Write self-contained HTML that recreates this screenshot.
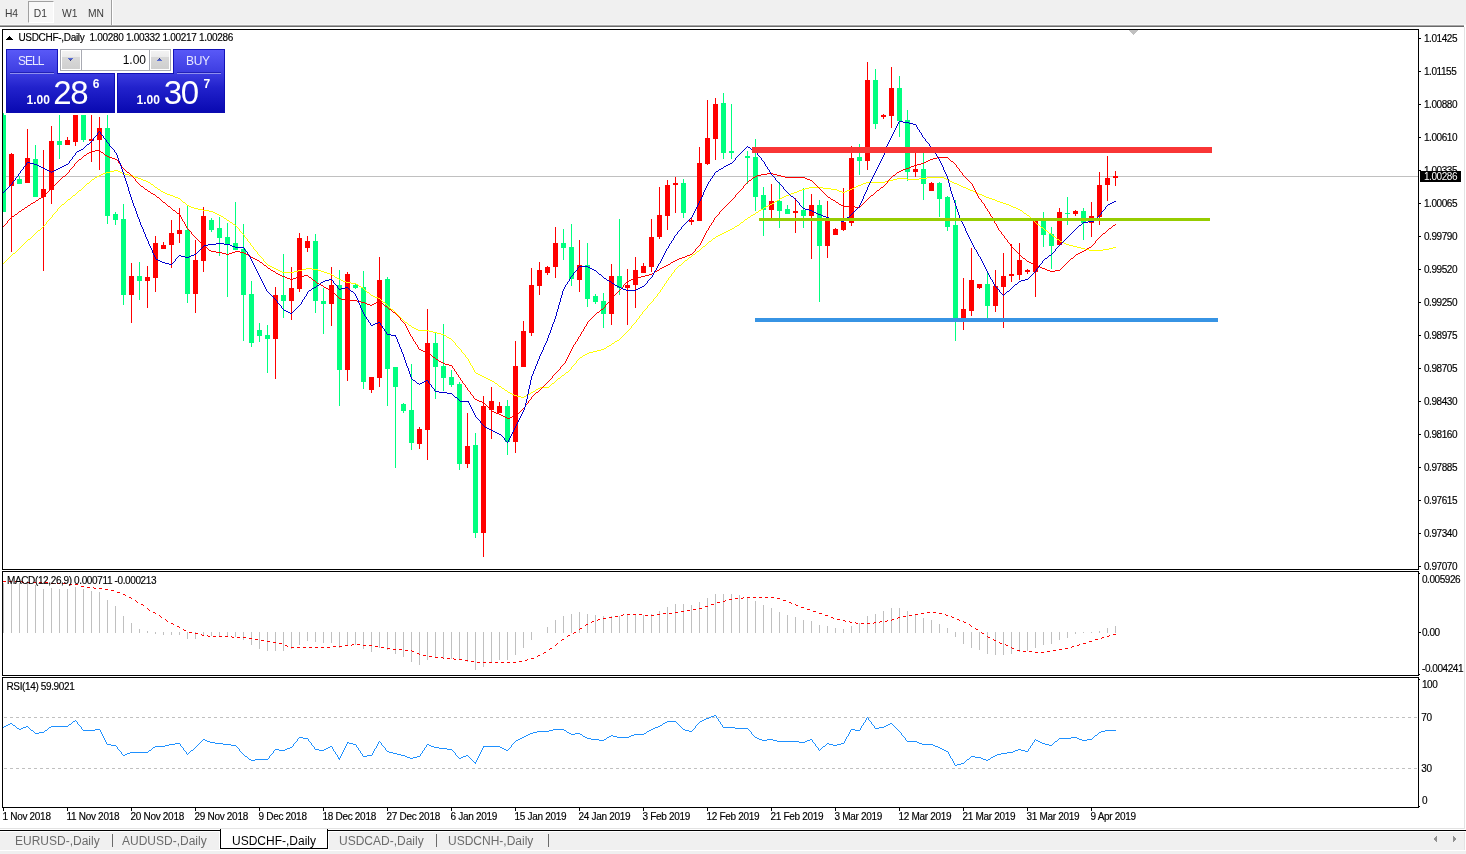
<!DOCTYPE html>
<html><head><meta charset="utf-8"><title>USDCHF-,Daily</title>
<style>
html,body{margin:0;padding:0}
body{width:1466px;height:854px;position:relative;overflow:hidden;background:#fff;font-family:"Liberation Sans",sans-serif}
div{position:absolute;box-sizing:border-box}
.t{font-size:10px;line-height:20px;height:20px;color:#000;white-space:nowrap;letter-spacing:-0.3px;-webkit-text-stroke:0.15px currentColor}
.n{letter-spacing:-0.45px}
.m{letter-spacing:-0.37px}
.tb{font-size:10.3px;line-height:20px;height:20px;color:#3c3c3c;white-space:nowrap}
.tab{font-size:12px;line-height:20px;height:20px;color:#6b6b6b;white-space:nowrap}
.w{color:#fff;white-space:nowrap}
</style></head><body>
<!-- toolbar -->
<div style="left:0;top:0;width:1466px;height:24px;background:#f0f0f0"></div>
<div style="left:0;top:24px;width:1466px;height:1px;background:#f6f6f6"></div>
<div style="left:0;top:25px;width:1464px;height:1px;background:#a8a8a8"></div>
<div style="left:0;top:26px;width:1464px;height:1px;background:#696969"></div>
<div style="left:28px;top:1px;width:26px;height:22px;background:#f8f8f8;border-left:1px solid #a0a0a0;border-top:1px solid #a0a0a0;border-right:1px solid #fff;border-bottom:1px solid #fff"></div>
<div style="left:111px;top:0;width:1px;height:25px;background:#a0a0a0"></div>
<div style="left:112px;top:0;width:1px;height:25px;background:#fff"></div>
<div class="tb" style="left:4.9px;top:4.2px">H4</div>
<div class="tb" style="left:33.8px;top:4.2px">D1</div>
<div class="tb" style="left:62px;top:4.2px">W1</div>
<div class="tb" style="left:88px;top:4.2px">MN</div>
<!-- right window edge -->
<div style="left:1464px;top:27px;width:1px;height:802px;background:#e3e3e3"></div>
<!-- bottom tab bar -->
<div style="left:0;top:828px;width:1465px;height:1px;background:#e3e3e3"></div>
<div style="left:0;top:830px;width:1466px;height:24px;background:#f0f0f0"></div>
<div style="left:0;top:830px;width:1466px;height:1px;background:#000"></div>
<div style="left:0;top:831px;width:1466px;height:1px;background:#fff"></div>
<div style="left:1464px;top:832px;width:1px;height:18px;background:#e3e3e3"></div>
<div style="left:1465px;top:831px;width:1px;height:20px;background:#fff"></div>
<div style="left:0;top:850px;width:1466px;height:1px;background:#fff"></div>
<div style="left:220px;top:849px;width:109px;height:1px;background:#fff"></div>
<div style="left:219px;top:831px;width:1px;height:18px;background:#fff"></div>
<div style="left:328px;top:831px;width:1px;height:18px;background:#fff"></div>
<div style="left:220px;top:829px;width:108px;height:20px;background:#fff;border:1px solid #000;border-top:none"></div>
<div style="left:221px;top:829px;width:106px;height:3px;background:#fff"></div>
<div class="tab" style="left:15px;top:830.5px">EURUSD-,Daily</div>
<div style="left:112px;top:834px;width:1px;height:13px;background:#6b6b6b"></div>
<div class="tab" style="left:122px;top:830.5px">AUDUSD-,Daily</div>
<div class="tab" style="left:232px;top:830.5px;color:#000">USDCHF-,Daily</div>
<div class="tab" style="left:339px;top:830.5px">USDCAD-,Daily</div>
<div style="left:436px;top:834px;width:1px;height:13px;background:#6b6b6b"></div>
<div class="tab" style="left:448px;top:830.5px">USDCNH-,Daily</div>
<div style="left:548px;top:834px;width:1px;height:13px;background:#6b6b6b"></div>
<svg style="position:absolute;left:1430px;top:832px" width="32" height="14" viewBox="1430 832 32 14" shape-rendering="crispEdges"><path d="M1434 838h1v2h-1zM1435 837h1v4h-1zM1436 836h1v6h-1zM1453 836h1v6h-1zM1454 837h1v4h-1zM1455 838h1v2h-1z" fill="#909090"/></svg>
<svg width="1466" height="854" viewBox="0 0 1466 854" shape-rendering="crispEdges" style="position:absolute;left:0;top:0"><defs><clipPath id="cm"><rect x="3" y="30" width="1415" height="539"/></clipPath><clipPath id="c2"><rect x="3" y="572" width="1415" height="103"/></clipPath><clipPath id="c3"><rect x="3" y="678" width="1415" height="129"/></clipPath></defs><rect x="3" y="176" width="1415" height="1" fill="#c0c0c0"/><g clip-path="url(#cm)"><rect x="3" y="113" width="1" height="99" fill="#00ff7f"/><rect x="1" y="115" width="5" height="97" fill="#00ff7f"/><rect x="11" y="153" width="1" height="99" fill="#ff0000"/><rect x="9" y="154" width="5" height="32" fill="#ff0000"/><rect x="19" y="176" width="1" height="8" fill="#00ff7f"/><rect x="17" y="179" width="5" height="5" fill="#00ff7f"/><rect x="27" y="129" width="1" height="54" fill="#ff0000"/><rect x="25" y="158" width="5" height="25" fill="#ff0000"/><rect x="35" y="145" width="1" height="52" fill="#00ff7f"/><rect x="33" y="159" width="5" height="38" fill="#00ff7f"/><rect x="43" y="150" width="1" height="121" fill="#ff0000"/><rect x="41" y="189" width="5" height="8" fill="#ff0000"/><rect x="51" y="126" width="1" height="78" fill="#ff0000"/><rect x="49" y="141" width="5" height="49" fill="#ff0000"/><rect x="59" y="100" width="1" height="59" fill="#00ff7f"/><rect x="57" y="141" width="5" height="4" fill="#00ff7f"/><rect x="67" y="137" width="1" height="8" fill="#ff0000"/><rect x="65" y="140" width="5" height="5" fill="#ff0000"/><rect x="75" y="100" width="1" height="46" fill="#ff0000"/><rect x="73" y="100" width="5" height="42" fill="#ff0000"/><rect x="83" y="100" width="1" height="42" fill="#00ff7f"/><rect x="81" y="100" width="5" height="40" fill="#00ff7f"/><rect x="91" y="100" width="1" height="62" fill="#ff0000"/><rect x="89" y="139" width="5" height="2" fill="#ff0000"/><rect x="99" y="117" width="1" height="53" fill="#ff0000"/><rect x="97" y="128" width="5" height="12" fill="#ff0000"/><rect x="107" y="100" width="1" height="124" fill="#00ff7f"/><rect x="105" y="128" width="5" height="88" fill="#00ff7f"/><rect x="115" y="212" width="1" height="13" fill="#00ff7f"/><rect x="113" y="214" width="5" height="6" fill="#00ff7f"/><rect x="123" y="204" width="1" height="101" fill="#00ff7f"/><rect x="121" y="219" width="5" height="76" fill="#00ff7f"/><rect x="131" y="263" width="1" height="60" fill="#ff0000"/><rect x="129" y="276" width="5" height="19" fill="#ff0000"/><rect x="139" y="262" width="1" height="38" fill="#00ff7f"/><rect x="137" y="276" width="5" height="5" fill="#00ff7f"/><rect x="147" y="266" width="1" height="42" fill="#ff0000"/><rect x="145" y="277" width="5" height="4" fill="#ff0000"/><rect x="155" y="236" width="1" height="56" fill="#ff0000"/><rect x="153" y="243" width="5" height="35" fill="#ff0000"/><rect x="163" y="242" width="1" height="7" fill="#ff0000"/><rect x="161" y="245" width="5" height="4" fill="#ff0000"/><rect x="171" y="220" width="1" height="48" fill="#ff0000"/><rect x="169" y="233" width="5" height="12" fill="#ff0000"/><rect x="179" y="208" width="1" height="35" fill="#ff0000"/><rect x="177" y="230" width="5" height="4" fill="#ff0000"/><rect x="187" y="205" width="1" height="98" fill="#00ff7f"/><rect x="185" y="230" width="5" height="64" fill="#00ff7f"/><rect x="195" y="240" width="1" height="73" fill="#ff0000"/><rect x="193" y="260" width="5" height="34" fill="#ff0000"/><rect x="203" y="207" width="1" height="65" fill="#ff0000"/><rect x="201" y="216" width="5" height="45" fill="#ff0000"/><rect x="211" y="218" width="1" height="14" fill="#00ff7f"/><rect x="209" y="220" width="5" height="10" fill="#00ff7f"/><rect x="219" y="217" width="1" height="39" fill="#00ff7f"/><rect x="217" y="228" width="5" height="10" fill="#00ff7f"/><rect x="227" y="223" width="1" height="74" fill="#00ff7f"/><rect x="225" y="237" width="5" height="7" fill="#00ff7f"/><rect x="235" y="202" width="1" height="48" fill="#00ff7f"/><rect x="233" y="243" width="5" height="7" fill="#00ff7f"/><rect x="243" y="224" width="1" height="117" fill="#00ff7f"/><rect x="241" y="249" width="5" height="46" fill="#00ff7f"/><rect x="251" y="281" width="1" height="66" fill="#00ff7f"/><rect x="249" y="294" width="5" height="49" fill="#00ff7f"/><rect x="259" y="323" width="1" height="19" fill="#00ff7f"/><rect x="257" y="330" width="5" height="6" fill="#00ff7f"/><rect x="267" y="325" width="1" height="48" fill="#00ff7f"/><rect x="265" y="335" width="5" height="4" fill="#00ff7f"/><rect x="275" y="287" width="1" height="92" fill="#ff0000"/><rect x="273" y="295" width="5" height="44" fill="#ff0000"/><rect x="283" y="254" width="1" height="64" fill="#00ff7f"/><rect x="281" y="295" width="5" height="6" fill="#00ff7f"/><rect x="291" y="267" width="1" height="53" fill="#ff0000"/><rect x="289" y="288" width="5" height="13" fill="#ff0000"/><rect x="299" y="233" width="1" height="59" fill="#ff0000"/><rect x="297" y="238" width="5" height="51" fill="#ff0000"/><rect x="307" y="236" width="1" height="16" fill="#ff0000"/><rect x="305" y="241" width="5" height="7" fill="#ff0000"/><rect x="315" y="234" width="1" height="79" fill="#00ff7f"/><rect x="313" y="241" width="5" height="60" fill="#00ff7f"/><rect x="323" y="288" width="1" height="46" fill="#00ff7f"/><rect x="321" y="301" width="5" height="3" fill="#00ff7f"/><rect x="331" y="267" width="1" height="59" fill="#ff0000"/><rect x="329" y="285" width="5" height="19" fill="#ff0000"/><rect x="339" y="270" width="1" height="136" fill="#00ff7f"/><rect x="337" y="285" width="5" height="85" fill="#00ff7f"/><rect x="347" y="272" width="1" height="109" fill="#ff0000"/><rect x="345" y="274" width="5" height="96" fill="#ff0000"/><rect x="355" y="283" width="1" height="6" fill="#00ff7f"/><rect x="353" y="285" width="5" height="3" fill="#00ff7f"/><rect x="363" y="271" width="1" height="118" fill="#00ff7f"/><rect x="361" y="287" width="5" height="95" fill="#00ff7f"/><rect x="371" y="377" width="1" height="16" fill="#ff0000"/><rect x="369" y="377" width="5" height="13" fill="#ff0000"/><rect x="379" y="257" width="1" height="130" fill="#ff0000"/><rect x="377" y="280" width="5" height="98" fill="#ff0000"/><rect x="387" y="277" width="1" height="129" fill="#00ff7f"/><rect x="385" y="279" width="5" height="90" fill="#00ff7f"/><rect x="395" y="367" width="1" height="101" fill="#00ff7f"/><rect x="393" y="367" width="5" height="20" fill="#00ff7f"/><rect x="403" y="403" width="1" height="10" fill="#00ff7f"/><rect x="401" y="404" width="5" height="7" fill="#00ff7f"/><rect x="411" y="364" width="1" height="86" fill="#00ff7f"/><rect x="409" y="410" width="5" height="33" fill="#00ff7f"/><rect x="419" y="427" width="1" height="22" fill="#ff0000"/><rect x="417" y="429" width="5" height="15" fill="#ff0000"/><rect x="427" y="309" width="1" height="151" fill="#ff0000"/><rect x="425" y="343" width="5" height="87" fill="#ff0000"/><rect x="435" y="332" width="1" height="67" fill="#00ff7f"/><rect x="433" y="343" width="5" height="24" fill="#00ff7f"/><rect x="443" y="324" width="1" height="67" fill="#00ff7f"/><rect x="441" y="366" width="5" height="12" fill="#00ff7f"/><rect x="451" y="370" width="1" height="17" fill="#00ff7f"/><rect x="449" y="377" width="5" height="8" fill="#00ff7f"/><rect x="459" y="382" width="1" height="88" fill="#00ff7f"/><rect x="457" y="384" width="5" height="80" fill="#00ff7f"/><rect x="467" y="413" width="1" height="55" fill="#ff0000"/><rect x="465" y="446" width="5" height="18" fill="#ff0000"/><rect x="475" y="433" width="1" height="105" fill="#00ff7f"/><rect x="473" y="445" width="5" height="88" fill="#00ff7f"/><rect x="483" y="396" width="1" height="161" fill="#ff0000"/><rect x="481" y="406" width="5" height="127" fill="#ff0000"/><rect x="491" y="387" width="1" height="52" fill="#ff0000"/><rect x="489" y="401" width="5" height="9" fill="#ff0000"/><rect x="499" y="402" width="1" height="11" fill="#ff0000"/><rect x="497" y="406" width="5" height="7" fill="#ff0000"/><rect x="507" y="400" width="1" height="55" fill="#00ff7f"/><rect x="505" y="406" width="5" height="36" fill="#00ff7f"/><rect x="515" y="341" width="1" height="112" fill="#ff0000"/><rect x="513" y="366" width="5" height="76" fill="#ff0000"/><rect x="523" y="321" width="1" height="46" fill="#ff0000"/><rect x="521" y="331" width="5" height="36" fill="#ff0000"/><rect x="531" y="268" width="1" height="68" fill="#ff0000"/><rect x="529" y="285" width="5" height="48" fill="#ff0000"/><rect x="539" y="262" width="1" height="33" fill="#ff0000"/><rect x="537" y="270" width="5" height="16" fill="#ff0000"/><rect x="547" y="266" width="1" height="9" fill="#ff0000"/><rect x="545" y="267" width="5" height="6" fill="#ff0000"/><rect x="555" y="227" width="1" height="51" fill="#ff0000"/><rect x="553" y="243" width="5" height="24" fill="#ff0000"/><rect x="563" y="229" width="1" height="31" fill="#00ff7f"/><rect x="561" y="243" width="5" height="5" fill="#00ff7f"/><rect x="571" y="224" width="1" height="62" fill="#00ff7f"/><rect x="569" y="247" width="5" height="32" fill="#00ff7f"/><rect x="579" y="240" width="1" height="52" fill="#ff0000"/><rect x="577" y="265" width="5" height="15" fill="#ff0000"/><rect x="587" y="243" width="1" height="64" fill="#00ff7f"/><rect x="585" y="265" width="5" height="34" fill="#00ff7f"/><rect x="595" y="294" width="1" height="10" fill="#00ff7f"/><rect x="593" y="296" width="5" height="6" fill="#00ff7f"/><rect x="603" y="293" width="1" height="35" fill="#00ff7f"/><rect x="601" y="301" width="5" height="13" fill="#00ff7f"/><rect x="611" y="264" width="1" height="61" fill="#ff0000"/><rect x="609" y="276" width="5" height="38" fill="#ff0000"/><rect x="619" y="219" width="1" height="76" fill="#00ff7f"/><rect x="617" y="276" width="5" height="12" fill="#00ff7f"/><rect x="627" y="269" width="1" height="56" fill="#ff0000"/><rect x="625" y="285" width="5" height="3" fill="#ff0000"/><rect x="635" y="257" width="1" height="51" fill="#ff0000"/><rect x="633" y="270" width="5" height="15" fill="#ff0000"/><rect x="643" y="263" width="1" height="10" fill="#ff0000"/><rect x="641" y="266" width="5" height="7" fill="#ff0000"/><rect x="651" y="219" width="1" height="53" fill="#ff0000"/><rect x="649" y="237" width="5" height="30" fill="#ff0000"/><rect x="659" y="187" width="1" height="52" fill="#ff0000"/><rect x="657" y="215" width="5" height="22" fill="#ff0000"/><rect x="667" y="180" width="1" height="50" fill="#ff0000"/><rect x="665" y="185" width="5" height="31" fill="#ff0000"/><rect x="675" y="177" width="1" height="36" fill="#ff0000"/><rect x="673" y="183" width="5" height="2" fill="#ff0000"/><rect x="683" y="179" width="1" height="39" fill="#00ff7f"/><rect x="681" y="183" width="5" height="30" fill="#00ff7f"/><rect x="691" y="217" width="1" height="8" fill="#ff0000"/><rect x="689" y="220" width="5" height="2" fill="#ff0000"/><rect x="699" y="147" width="1" height="74" fill="#ff0000"/><rect x="697" y="163" width="5" height="58" fill="#ff0000"/><rect x="707" y="100" width="1" height="65" fill="#ff0000"/><rect x="705" y="138" width="5" height="26" fill="#ff0000"/><rect x="715" y="98" width="1" height="62" fill="#ff0000"/><rect x="713" y="104" width="5" height="35" fill="#ff0000"/><rect x="723" y="93" width="1" height="66" fill="#00ff7f"/><rect x="721" y="103" width="5" height="50" fill="#00ff7f"/><rect x="731" y="104" width="1" height="55" fill="#00ff7f"/><rect x="729" y="151" width="5" height="2" fill="#00ff7f"/><rect x="747" y="151" width="1" height="33" fill="#00ff7f"/><rect x="745" y="156" width="5" height="2" fill="#00ff7f"/><rect x="755" y="139" width="1" height="72" fill="#00ff7f"/><rect x="753" y="157" width="5" height="40" fill="#00ff7f"/><rect x="763" y="187" width="1" height="49" fill="#00ff7f"/><rect x="761" y="195" width="5" height="15" fill="#00ff7f"/><rect x="771" y="184" width="1" height="34" fill="#ff0000"/><rect x="769" y="201" width="5" height="9" fill="#ff0000"/><rect x="779" y="182" width="1" height="46" fill="#00ff7f"/><rect x="777" y="201" width="5" height="10" fill="#00ff7f"/><rect x="787" y="205" width="1" height="9" fill="#00ff7f"/><rect x="785" y="209" width="5" height="5" fill="#00ff7f"/><rect x="795" y="198" width="1" height="35" fill="#ff0000"/><rect x="793" y="211" width="5" height="2" fill="#ff0000"/><rect x="803" y="188" width="1" height="40" fill="#00ff7f"/><rect x="801" y="210" width="5" height="6" fill="#00ff7f"/><rect x="811" y="194" width="1" height="65" fill="#ff0000"/><rect x="809" y="205" width="5" height="11" fill="#ff0000"/><rect x="819" y="200" width="1" height="102" fill="#00ff7f"/><rect x="817" y="205" width="5" height="41" fill="#00ff7f"/><rect x="827" y="201" width="1" height="57" fill="#ff0000"/><rect x="825" y="219" width="5" height="27" fill="#ff0000"/><rect x="835" y="228" width="1" height="7" fill="#ff0000"/><rect x="833" y="229" width="5" height="6" fill="#ff0000"/><rect x="843" y="188" width="1" height="43" fill="#ff0000"/><rect x="841" y="222" width="5" height="8" fill="#ff0000"/><rect x="851" y="146" width="1" height="80" fill="#ff0000"/><rect x="849" y="158" width="5" height="65" fill="#ff0000"/><rect x="859" y="144" width="1" height="31" fill="#00ff7f"/><rect x="857" y="157" width="5" height="4" fill="#00ff7f"/><rect x="867" y="62" width="1" height="108" fill="#ff0000"/><rect x="865" y="80" width="5" height="81" fill="#ff0000"/><rect x="875" y="69" width="1" height="60" fill="#00ff7f"/><rect x="873" y="80" width="5" height="44" fill="#00ff7f"/><rect x="883" y="114" width="1" height="5" fill="#ff0000"/><rect x="881" y="115" width="5" height="2" fill="#ff0000"/><rect x="891" y="67" width="1" height="61" fill="#ff0000"/><rect x="889" y="88" width="5" height="28" fill="#ff0000"/><rect x="899" y="76" width="1" height="61" fill="#00ff7f"/><rect x="897" y="88" width="5" height="33" fill="#00ff7f"/><rect x="907" y="110" width="1" height="71" fill="#00ff7f"/><rect x="905" y="120" width="5" height="52" fill="#00ff7f"/><rect x="915" y="153" width="1" height="24" fill="#ff0000"/><rect x="913" y="169" width="5" height="3" fill="#ff0000"/><rect x="923" y="153" width="1" height="47" fill="#00ff7f"/><rect x="921" y="169" width="5" height="15" fill="#00ff7f"/><rect x="931" y="182" width="1" height="9" fill="#ff0000"/><rect x="929" y="183" width="5" height="8" fill="#ff0000"/><rect x="939" y="182" width="1" height="35" fill="#00ff7f"/><rect x="937" y="183" width="5" height="16" fill="#00ff7f"/><rect x="947" y="196" width="1" height="35" fill="#00ff7f"/><rect x="945" y="197" width="5" height="30" fill="#00ff7f"/><rect x="955" y="200" width="1" height="141" fill="#00ff7f"/><rect x="953" y="225" width="5" height="95" fill="#00ff7f"/><rect x="963" y="278" width="1" height="52" fill="#ff0000"/><rect x="961" y="309" width="5" height="11" fill="#ff0000"/><rect x="971" y="248" width="1" height="68" fill="#ff0000"/><rect x="969" y="280" width="5" height="31" fill="#ff0000"/><rect x="979" y="284" width="1" height="5" fill="#ff0000"/><rect x="977" y="284" width="5" height="4" fill="#ff0000"/><rect x="987" y="273" width="1" height="45" fill="#00ff7f"/><rect x="985" y="284" width="5" height="22" fill="#00ff7f"/><rect x="995" y="270" width="1" height="42" fill="#ff0000"/><rect x="993" y="286" width="5" height="20" fill="#ff0000"/><rect x="1003" y="253" width="1" height="75" fill="#ff0000"/><rect x="1001" y="276" width="5" height="11" fill="#ff0000"/><rect x="1011" y="244" width="1" height="38" fill="#ff0000"/><rect x="1009" y="274" width="5" height="2" fill="#ff0000"/><rect x="1019" y="243" width="1" height="37" fill="#ff0000"/><rect x="1017" y="260" width="5" height="15" fill="#ff0000"/><rect x="1027" y="269" width="1" height="5" fill="#ff0000"/><rect x="1025" y="270" width="5" height="2" fill="#ff0000"/><rect x="1035" y="218" width="1" height="79" fill="#ff0000"/><rect x="1033" y="221" width="5" height="51" fill="#ff0000"/><rect x="1043" y="212" width="1" height="35" fill="#00ff7f"/><rect x="1041" y="221" width="5" height="14" fill="#00ff7f"/><rect x="1051" y="227" width="1" height="42" fill="#00ff7f"/><rect x="1049" y="234" width="5" height="12" fill="#00ff7f"/><rect x="1059" y="208" width="1" height="37" fill="#ff0000"/><rect x="1057" y="212" width="5" height="33" fill="#ff0000"/><rect x="1067" y="197" width="1" height="28" fill="#00ff7f"/><rect x="1065" y="213" width="5" height="1" fill="#00ff7f"/><rect x="1075" y="210" width="1" height="6" fill="#ff0000"/><rect x="1073" y="211" width="5" height="3" fill="#ff0000"/><rect x="1083" y="208" width="1" height="32" fill="#00ff7f"/><rect x="1081" y="211" width="5" height="12" fill="#00ff7f"/><rect x="1091" y="202" width="1" height="35" fill="#ff0000"/><rect x="1089" y="216" width="5" height="7" fill="#ff0000"/><rect x="1099" y="172" width="1" height="53" fill="#ff0000"/><rect x="1097" y="185" width="5" height="32" fill="#ff0000"/><rect x="1107" y="156" width="1" height="45" fill="#ff0000"/><rect x="1105" y="178" width="5" height="7" fill="#ff0000"/><rect x="1115" y="171" width="1" height="15" fill="#ff0000"/><rect x="1113" y="176" width="5" height="2" fill="#ff0000"/></g><g clip-path="url(#cm)"><path d="M282 272h12v1h-12zM324 272h3v1h-3zM278 270h2v1h-2zM298 270h4v1h-4zM318 270h3v1h-3zM718 235h2v1h-2zM772 203h2v1h-2zM1003 203h3v1h-3zM1089 250h14v1h-14zM709 241h2v1h-2zM1060 241h2v1h-2zM341 280h2v1h-2zM409 325h2v1h-2zM371 295h2v1h-2zM95 177h2v1h-2zM135 177h3v1h-3zM927 177h17v1h-17zM38 230h2v1h-2zM728 230h2v1h-2zM1045 230h2v1h-2zM187 205h2v1h-2zM768 205h2v1h-2zM1009 205h2v1h-2zM566 372h2v1h-2zM597 350h4v1h-4zM1085 249h4v1h-4zM1103 249h6v1h-6zM777 200h2v1h-2zM995 200h2v1h-2zM433 332h4v1h-4zM191 207h3v1h-3zM764 207h2v1h-2zM1013 207h3v1h-3zM748 217h2v1h-2zM151 184h2v1h-2zM861 184h2v1h-2zM957 184h2v1h-2zM391 309h2v1h-2zM213 212h2v1h-2zM756 212h2v1h-2zM1066 244h3v1h-3zM367 292h2v1h-2zM92 179h2v1h-2zM141 179h2v1h-2zM893 179h4v1h-4zM907 179h12v1h-12zM946 179h2v1h-2zM148 182h2v1h-2zM866 182h19v1h-19zM952 182h2v1h-2zM858 185h3v1h-3zM959 185h2v1h-2zM97 176h2v1h-2zM133 176h2v1h-2zM274 268h2v1h-2zM306 268h6v1h-6zM735 226h2v1h-2zM146 181h2v1h-2zM885 181h4v1h-4zM950 181h2v1h-2zM337 278h2v1h-2zM490 380h2v1h-2zM165 193h2v1h-2zM791 193h3v1h-3zM977 193h2v1h-2zM161 191h2v1h-2zM797 191h2v1h-2zM839 191h3v1h-3zM845 191h2v1h-2zM973 191h2v1h-2zM138 178h3v1h-3zM897 178h10v1h-10zM919 178h8v1h-8zM944 178h2v1h-2zM1041 227h2v1h-2zM1064 243h2v1h-2zM418 330h11v1h-11zM73 195h2v1h-2zM170 195h3v1h-3zM786 195h3v1h-3zM982 195h2v1h-2zM280 271h2v1h-2zM294 271h4v1h-4zM321 271h3v1h-3zM62 204h2v1h-2zM770 204h2v1h-2zM1006 204h3v1h-3zM373 296h2v1h-2zM167 194h3v1h-3zM789 194h2v1h-2zM979 194h3v1h-3zM517 396h4v1h-4zM524 396h2v1h-2zM198 209h5v1h-5zM761 209h2v1h-2zM1018 209h2v1h-2zM339 279h2v1h-2zM612 343h2v1h-2zM143 180h3v1h-3zM889 180h4v1h-4zM948 180h2v1h-2zM106 172h4v1h-4zM120 172h2v1h-2zM775 201h2v1h-2zM997 201h3v1h-3zM343 281h3v1h-3zM722 233h2v1h-2zM1049 233h2v1h-2zM486 378h2v1h-2zM558 378h2v1h-2zM583 355h2v1h-2zM449 338h2v1h-2zM478 374h2v1h-2zM183 202h2v1h-2zM1000 202h3v1h-3zM805 188h4v1h-4zM823 188h8v1h-8zM852 188h2v1h-2zM966 188h2v1h-2zM1077 247h4v1h-4zM1113 247h3v1h-3zM178 198h2v1h-2zM780 198h2v1h-2zM989 198h3v1h-3zM103 173h3v1h-3zM122 173h3v1h-3zM346 282h5v1h-5zM540 387h9v1h-9zM79 190h2v1h-2zM799 190h3v1h-3zM837 190h2v1h-2zM847 190h3v1h-3zM970 190h3v1h-3zM693 254h2v1h-2zM230 222h2v1h-2zM741 222h2v1h-2zM114 170h4v1h-4zM332 275h2v1h-2zM158 189h2v1h-2zM802 189h3v1h-3zM831 189h6v1h-6zM850 189h2v1h-2zM968 189h2v1h-2zM155 187h2v1h-2zM809 187h14v1h-14zM854 187h2v1h-2zM963 187h3v1h-3zM268 265h2v1h-2zM679 265h2v1h-2zM217 214h2v1h-2zM753 214h2v1h-2zM215 213h2v1h-2zM1024 213h2v1h-2zM437 333h4v1h-4zM607 346h2v1h-2zM441 334h3v1h-3zM163 192h2v1h-2zM794 192h3v1h-3zM842 192h3v1h-3zM975 192h2v1h-2zM604 348h2v1h-2zM745 219h2v1h-2zM1069 245h4v1h-4zM476 373h2v1h-2zM327 273h3v1h-3zM856 186h2v1h-2zM961 186h2v1h-2zM68 199h2v1h-2zM992 199h3v1h-3zM224 218h2v1h-2zM617 340h2v1h-2zM492 381h2v1h-2zM512 394h2v1h-2zM528 394h2v1h-2zM609 345h2v1h-2zM585 354h2v1h-2zM330 274h2v1h-2zM713 238h2v1h-2zM101 174h2v1h-2zM125 174h4v1h-4zM351 283h5v1h-5zM173 196h2v1h-2zM784 196h2v1h-2zM984 196h2v1h-2zM233 224h2v1h-2zM1037 224h2v1h-2zM593 351h4v1h-4zM110 171h4v1h-4zM118 171h2v1h-2zM724 232h2v1h-2zM726 231h2v1h-2zM508 392h2v1h-2zM531 392h2v1h-2zM697 251h2v1h-2zM703 246h2v1h-2zM1073 246h4v1h-4zM444 335h2v1h-2zM87 183h2v1h-2zM863 183h3v1h-3zM954 183h3v1h-3zM276 269h2v1h-2zM302 269h4v1h-4zM312 269h6v1h-6zM203 210h6v1h-6zM759 210h2v1h-2zM1020 210h2v1h-2zM99 175h2v1h-2zM129 175h4v1h-4zM359 286h2v1h-2zM28 239h2v1h-2zM1057 239h2v1h-2zM175 197h3v1h-3zM782 197h2v1h-2zM986 197h3v1h-3zM361 287h2v1h-2zM536 389h2v1h-2zM514 395h3v1h-3zM526 395h2v1h-2zM732 228h2v1h-2zM601 349h3v1h-3zM720 234h2v1h-2zM1081 248h4v1h-4zM1109 248h4v1h-4zM615 341h2v1h-2zM716 236h2v1h-2zM1053 236h2v1h-2zM412 327h2v1h-2zM194 208h4v1h-4zM1016 208h2v1h-2zM227 220h2v1h-2zM580 357h2v1h-2zM209 211h4v1h-4zM1062 242h2v1h-2zM429 331h4v1h-4zM521 397h3v1h-3zM689 257h2v1h-2zM685 260h2v1h-2zM375 297h3v1h-3zM499 386h2v1h-2zM189 206h2v1h-2zM766 206h2v1h-2zM1011 206h2v1h-2zM219 215h2v1h-2zM751 215h2v1h-2zM1027 215h2v1h-2zM414 328h2v1h-2zM495 383h2v1h-2zM552 383h2v1h-2zM589 352h4v1h-4zM270 266h2v1h-2zM416 329h2v1h-2zM335 277h2v1h-2zM587 353h2v1h-2zM533 391h2v1h-2zM730 229h2v1h-2zM484 377h2v1h-2zM737 225h2v1h-2zM488 379h2v1h-2zM480 375h2v1h-2zM562 375h2v1h-2zM13 253h2v1h-2zM482 376h2v1h-2zM447 337h2v1h-2zM405 322h2v1h-2zM383 302h2v1h-2zM502 388h2v1h-2zM538 388h2v1h-2zM221 216h2v1h-2zM510 393h2v1h-2zM505 390h2v1h-2zM356 284h2v1h-2zM378 298h2v1h-2zM272 267h2v1h-2zM248 241h1v1h-1zM632 325h1v1h-1zM494 382h1v1h-1zM51 217h1v1h-1zM86 184h1v1h-1zM645 309h1v1h-1zM23 244h1v1h-1zM648 305h1v1h-1zM236 226h1v1h-1zM265 262h1v1h-1zM90 181h1v1h-1zM640 315h1v1h-1zM237 227h1v1h-1zM266 263h1v1h-1zM7 259h1v1h-1zM656 296h1v1h-1zM707 243h1v1h-1zM668 278h1v2h-1zM66 201h1v1h-1zM711 240h1v1h-1zM700 249h1v1h-1zM465 355h1v2h-1zM43 226h1v1h-1zM70 198h1v1h-1zM715 237h1v1h-1zM408 324h1v1h-1zM258 254h1v1h-1zM54 213h1v1h-1zM385 303h1v1h-1zM334 276h1v1h-1zM397 314h1v1h-1zM659 292h1v1h-1zM457 346h1v1h-1zM1030 217h1v1h-1zM550 385h1v1h-1zM386 304h1v1h-1zM624 334h1v1h-1zM671 274h1v2h-1zM77 192h1v1h-1zM46 222h1v2h-1zM49 219h1v1h-1zM565 373h1v1h-1zM1031 218h1v1h-1zM554 382h1v1h-1zM247 239h1v2h-1zM81 189h1v1h-1zM18 249h1v1h-1zM464 354h1v1h-1zM1056 238h1v1h-1zM404 321h1v1h-1zM11 255h1v1h-1zM232 223h1v1h-1zM396 313h1v1h-1zM37 231h1v1h-1zM57 209h1v2h-1zM456 345h1v1h-1zM636 320h1v2h-1zM683 262h1v1h-1zM574 364h1v1h-1zM577 360h1v1h-1zM664 284h1v2h-1zM687 259h1v1h-1zM643 311h1v1h-1zM239 229h1v2h-1zM157 188h1v1h-1zM403 320h1v1h-1zM474 370h1v2h-1zM569 370h1v1h-1zM246 238h1v1h-1zM674 270h1v2h-1zM471 365h1v1h-1zM628 330h1v1h-1zM250 243h1v2h-1zM381 300h1v1h-1zM504 389h1v1h-1zM619 339h1v1h-1zM257 252h1v2h-1zM611 344h1v1h-1zM41 228h1v1h-1zM1026 214h1v1h-1zM363 288h1v1h-1zM1051 234h1v1h-1zM639 316h1v2h-1zM34 234h1v1h-1zM358 285h1v1h-1zM1052 235h1v1h-1zM470 363h1v2h-1zM61 205h1v1h-1zM631 326h1v2h-1zM473 368h1v2h-1zM634 323h1v1h-1zM763 208h1v1h-1zM755 213h1v1h-1zM466 357h1v1h-1zM647 306h1v2h-1zM56 211h1v1h-1zM25 242h1v1h-1zM467 358h1v1h-1zM223 217h1v1h-1zM22 245h1v1h-1zM642 312h1v2h-1zM9 257h1v1h-1zM455 343h1v2h-1zM72 196h1v1h-1zM6 260h1v1h-1zM260 256h1v1h-1zM655 297h1v1h-1zM658 293h1v1h-1zM549 386h1v1h-1zM623 335h1v1h-1zM702 247h1v1h-1zM670 276h1v1h-1zM76 193h1v1h-1zM45 224h1v1h-1zM572 366h1v1h-1zM65 202h1v1h-1zM469 361h1v2h-1zM267 264h1v1h-1zM369 293h1v1h-1zM650 303h1v1h-1zM653 299h1v2h-1zM185 203h1v1h-1zM380 299h1v1h-1zM1022 211h1v1h-1zM186 204h1v1h-1zM249 242h1v1h-1zM740 223h1v1h-1zM1047 231h1v1h-1zM678 266h1v1h-1zM53 214h1v1h-1zM744 220h1v1h-1zM1048 232h1v1h-1zM626 332h1v1h-1zM398 315h1v1h-1zM661 289h1v1h-1zM556 380h1v1h-1zM673 272h1v1h-1zM94 178h1v1h-1zM48 220h1v1h-1zM83 187h1v1h-1zM399 316h1v1h-1zM774 202h1v1h-1zM238 228h1v1h-1zM4 262h1v1h-1zM1032 219h1v1h-1zM59 207h1v1h-1zM36 232h1v1h-1zM576 361h1v2h-1zM40 229h1v1h-1zM259 255h1v1h-1zM364 289h1v1h-1zM20 247h1v1h-1zM571 367h1v2h-1zM560 377h1v1h-1zM365 290h1v1h-1zM181 200h1v1h-1zM458 347h1v1h-1zM387 305h1v1h-1zM564 374h1v1h-1zM630 328h1v1h-1zM472 366h1v2h-1zM1043 228h1v1h-1zM475 372h1v1h-1zM621 337h1v1h-1zM241 232h1v1h-1zM468 359h1v2h-1zM579 358h1v1h-1zM657 294h1v2h-1zM252 246h1v1h-1zM641 314h1v1h-1zM451 339h1v1h-1zM708 242h1v1h-1zM27 240h1v1h-1zM676 268h1v1h-1zM180 199h1v1h-1zM734 227h1v1h-1zM633 324h1v1h-1zM691 256h1v1h-1zM240 231h1v1h-1zM31 237h1v1h-1zM446 336h1v1h-1zM263 259h1v2h-1zM758 211h1v1h-1zM55 212h1v1h-1zM24 243h1v1h-1zM649 304h1v1h-1zM750 216h1v1h-1zM461 350h1v2h-1zM15 252h1v1h-1zM229 221h1v1h-1zM85 185h1v1h-1zM251 245h1v1h-1zM382 301h1v1h-1zM644 310h1v1h-1zM8 258h1v1h-1zM660 290h1v2h-1zM551 384h1v1h-1zM625 333h1v1h-1zM89 182h1v1h-1zM153 185h1v1h-1zM394 311h1v1h-1zM78 191h1v1h-1zM67 200h1v1h-1zM154 186h1v1h-1zM652 301h1v1h-1zM535 390h1v1h-1zM695 253h1v1h-1zM667 280h1v1h-1zM699 250h1v1h-1zM262 258h1v1h-1zM1023 212h1v1h-1zM1034 221h1v1h-1zM50 218h1v1h-1zM393 310h1v1h-1zM555 381h1v1h-1zM19 248h1v1h-1zM570 369h1v1h-1zM261 257h1v1h-1zM706 244h1v1h-1zM400 317h1v1h-1zM3 263h1v1h-1zM58 208h1v1h-1zM501 387h1v1h-1zM620 338h1v1h-1zM1033 220h1v1h-1zM370 294h1v1h-1zM401 318h1v1h-1zM42 227h1v1h-1zM578 359h1v1h-1zM253 247h1v2h-1zM150 183h1v1h-1zM243 234h1v1h-1zM682 263h1v1h-1zM254 249h1v1h-1zM573 365h1v1h-1zM663 286h1v1h-1zM26 241h1v1h-1zM675 269h1v1h-1zM452 340h1v1h-1zM411 326h1v1h-1zM30 238h1v1h-1zM453 341h1v1h-1zM497 384h1v1h-1zM182 201h1v1h-1zM459 348h1v1h-1zM10 256h1v1h-1zM388 306h1v1h-1zM460 349h1v1h-1zM389 307h1v1h-1zM1044 229h1v1h-1zM666 281h1v2h-1zM635 322h1v1h-1zM160 190h1v1h-1zM33 235h1v1h-1zM1059 240h1v1h-1zM407 323h1v1h-1zM366 291h1v1h-1zM651 302h1v1h-1zM235 225h1v1h-1zM264 261h1v1h-1zM17 250h1v1h-1zM568 371h1v1h-1zM52 215h1v2h-1zM646 308h1v1h-1zM557 379h1v1h-1zM242 233h1v1h-1zM627 331h1v1h-1zM779 199h1v1h-1zM561 376h1v1h-1zM638 318h1v1h-1zM5 261h1v1h-1zM60 206h1v1h-1zM654 298h1v1h-1zM712 239h1v1h-1zM701 248h1v1h-1zM1039 225h1v1h-1zM395 312h1v1h-1zM44 225h1v1h-1zM64 203h1v1h-1zM507 391h1v1h-1zM1040 226h1v1h-1zM705 245h1v1h-1zM530 393h1v1h-1zM1029 216h1v1h-1zM91 180h1v1h-1zM462 352h1v1h-1zM662 287h1v2h-1zM402 319h1v1h-1zM84 186h1v1h-1zM463 353h1v1h-1zM21 246h1v1h-1zM1055 237h1v1h-1zM614 342h1v1h-1zM606 347h1v1h-1zM669 277h1v1h-1zM47 221h1v1h-1zM82 188h1v1h-1zM71 197h1v1h-1zM256 251h1v1h-1zM622 336h1v1h-1zM75 194h1v1h-1zM35 233h1v1h-1zM684 261h1v1h-1zM244 235h1v2h-1zM575 363h1v1h-1zM739 224h1v1h-1zM390 308h1v1h-1zM245 237h1v1h-1zM677 267h1v1h-1zM1035 222h1v1h-1zM743 221h1v1h-1zM665 283h1v1h-1zM1036 223h1v1h-1zM672 273h1v1h-1zM255 250h1v1h-1zM12 254h1v1h-1zM629 329h1v1h-1zM498 385h1v1h-1zM16 251h1v1h-1zM226 219h1v1h-1zM454 342h1v1h-1zM688 258h1v1h-1zM582 356h1v1h-1zM692 255h1v1h-1zM637 319h1v1h-1zM32 236h1v1h-1zM681 264h1v1h-1zM747 218h1v1h-1zM696 252h1v1h-1z" fill="#ffff00"/><path d="M63 176h2v1h-2zM755 176h2v1h-2zM781 176h4v1h-4zM753 177h2v1h-2zM785 177h20v1h-20zM911 166h3v1h-3zM87 153h2v1h-2zM321 285h2v1h-2zM127 172h2v1h-2zM897 172h2v1h-2zM253 258h2v1h-2zM679 258h3v1h-3zM1023 258h2v1h-2zM1071 258h2v1h-2zM445 364h4v1h-4zM926 161h2v1h-2zM951 161h2v1h-2zM501 415h2v1h-2zM515 415h2v1h-2zM313 280h2v1h-2zM629 280h2v1h-2zM282 276h3v1h-3zM299 276h5v1h-5zM641 276h4v1h-4zM222 253h4v1h-4zM229 253h3v1h-3zM244 253h2v1h-2zM1078 253h2v1h-2zM168 206h2v1h-2zM843 206h12v1h-12zM109 157h3v1h-3zM937 157h11v1h-11zM341 299h4v1h-4zM357 301h4v1h-4zM378 301h2v1h-2zM15 214h2v1h-2zM148 191h2v1h-2zM627 281h2v1h-2zM906 168h3v1h-3zM285 277h2v1h-2zM296 277h3v1h-3zM309 277h2v1h-2zM637 277h4v1h-4zM761 174h6v1h-6zM773 174h4v1h-4zM226 254h3v1h-3zM246 254h2v1h-2zM690 254h2v1h-2zM1076 254h2v1h-2zM12 216h2v1h-2zM345 300h12v1h-12zM91 151h4v1h-4zM145 189h2v1h-2zM317 283h2v1h-2zM871 195h2v1h-2zM39 198h2v1h-2zM807 179h3v1h-3zM268 268h2v1h-2zM660 268h2v1h-2zM1042 268h3v1h-3zM441 362h2v1h-2zM1109 228h2v1h-2zM767 173h6v1h-6zM365 303h2v1h-2zM374 303h2v1h-2zM381 303h2v1h-2zM831 199h2v1h-2zM367 304h3v1h-3zM372 304h2v1h-2zM209 250h2v1h-2zM1084 250h2v1h-2zM914 165h3v1h-3zM260 262h2v1h-2zM671 262h2v1h-2zM1029 262h2v1h-2zM278 274h2v1h-2zM649 274h3v1h-3zM749 180h2v1h-2zM810 180h2v1h-2zM36 200h2v1h-2zM833 200h2v1h-2zM482 402h2v1h-2zM22 209h2v1h-2zM19 211h2v1h-2zM211 251h5v1h-5zM235 251h5v1h-5zM1082 251h2v1h-2zM881 187h2v1h-2zM257 260h2v1h-2zM675 260h2v1h-2zM917 164h4v1h-4zM921 163h3v1h-3zM264 265h2v1h-2zM666 265h2v1h-2zM1036 265h2v1h-2zM757 175h4v1h-4zM777 175h4v1h-4zM893 175h2v1h-2zM805 178h2v1h-2zM89 152h2v1h-2zM101 152h2v1h-2zM421 350h2v1h-2zM31 203h2v1h-2zM290 279h3v1h-3zM631 279h3v1h-3zM41 197h2v1h-2zM157 197h2v1h-2zM828 197h2v1h-2zM205 247h2v1h-2zM1089 247h2v1h-2zM662 267h2v1h-2zM1040 267h2v1h-2zM1031 263h3v1h-3zM1113 225h2v1h-2zM903 169h3v1h-3zM216 252h6v1h-6zM232 252h3v1h-3zM240 252h4v1h-4zM1080 252h2v1h-2zM393 312h2v1h-2zM597 312h2v1h-2zM248 255h2v1h-2zM687 255h3v1h-3zM433 357h2v1h-2zM112 158h3v1h-3zM933 158h4v1h-4zM255 259h2v1h-2zM677 259h2v1h-2zM141 186h2v1h-2zM901 170h2v1h-2zM507 418h3v1h-3zM499 414h2v1h-2zM273 271h2v1h-2zM655 271h2v1h-2zM1050 271h5v1h-5zM79 159h2v1h-2zM115 159h2v1h-2zM930 159h3v1h-3zM436 359h2v1h-2zM389 309h2v1h-2zM601 309h2v1h-2zM280 275h2v1h-2zM304 275h4v1h-4zM645 275h4v1h-4zM877 190h2v1h-2zM492 411h2v1h-2zM370 305h2v1h-2zM107 156h2v1h-2zM536 392h2v1h-2zM33 202h2v1h-2zM163 202h2v1h-2zM836 202h2v1h-2zM479 401h3v1h-3zM668 264h2v1h-2zM1034 264h2v1h-2zM503 416h2v1h-2zM512 416h3v1h-3zM361 302h4v1h-4zM376 302h2v1h-2zM928 160h2v1h-2zM496 413h3v1h-3zM287 278h3v1h-3zM293 278h3v1h-3zM634 278h3v1h-3zM673 261h2v1h-2zM1027 261h2v1h-2zM271 270h2v1h-2zM657 270h2v1h-2zM1047 270h3v1h-3zM1055 270h5v1h-5zM25 207h2v1h-2zM855 207h5v1h-5zM251 257h2v1h-2zM682 257h3v1h-3zM839 204h2v1h-2zM84 155h2v1h-2zM105 155h2v1h-2zM1087 248h2v1h-2zM95 150h5v1h-5zM324 287h2v1h-2zM385 306h2v1h-2zM28 205h2v1h-2zM841 205h2v1h-2zM429 354h2v1h-2zM664 266h2v1h-2zM1038 266h2v1h-2zM685 256h2v1h-2zM328 289h2v1h-2zM339 298h2v1h-2zM924 162h2v1h-2zM151 193h2v1h-2zM177 213h2v1h-2zM153 194h2v1h-2zM909 167h2v1h-2zM319 284h2v1h-2zM173 210h2v1h-2zM899 171h2v1h-2zM423 351h3v1h-3zM1045 269h2v1h-2zM1103 233h2v1h-2zM449 365h3v1h-3zM505 417h2v1h-2zM510 417h2v1h-2zM443 363h2v1h-2zM439 361h2v1h-2zM475 399h2v1h-2zM494 412h2v1h-2zM477 400h2v1h-2zM419 349h2v1h-2zM330 290h2v1h-2zM426 352h2v1h-2zM276 273h2v1h-2zM652 273h2v1h-2zM326 288h2v1h-2zM452 366h1v2h-1zM956 165h1v2h-1zM819 188h1v1h-1zM198 240h1v1h-1zM539 390h1v1h-1zM623 285h1v2h-1zM453 368h1v1h-1zM397 315h1v1h-1zM1018 253h1v1h-1zM1091 246h1v1h-1zM467 388h1v2h-1zM739 191h1v1h-1zM47 192h1v1h-1zM315 281h1v1h-1zM71 168h1v1h-1zM587 322h1v2h-1zM1019 254h1v1h-1zM716 216h1v1h-1zM719 212h1v2h-1zM1106 231h1v1h-1zM337 296h1v1h-1zM826 195h1v1h-1zM992 217h1v2h-1zM1000 231h1v1h-1zM471 394h1v1h-1zM135 179h1v2h-1zM985 206h1v2h-1zM567 357h1v2h-1zM993 219h1v2h-1zM1004 236h1v2h-1zM160 199h1v1h-1zM606 304h1v1h-1zM626 282h1v1h-1zM989 212h1v2h-1zM583 329h1v2h-1zM1067 262h1v1h-1zM59 180h1v1h-1zM161 200h1v1h-1zM528 401h1v2h-1zM172 209h1v1h-1zM575 342h1v2h-1zM486 405h1v1h-1zM1094 243h1v1h-1zM876 191h1v1h-1zM731 200h1v1h-1zM175 211h1v1h-1zM456 372h1v2h-1zM176 212h1v1h-1zM143 187h1v1h-1zM523 408h1v1h-1zM74 164h1v2h-1zM1064 265h1v1h-1zM579 336h1v1h-1zM966 178h1v1h-1zM860 206h1v1h-1zM571 349h1v2h-1zM594 315h1v1h-1zM618 291h1v1h-1zM24 208h1v1h-1zM190 231h1v1h-1zM967 179h1v1h-1zM134 178h1v1h-1zM988 211h1v1h-1zM996 224h1v2h-1zM978 196h1v2h-1zM123 168h1v1h-1zM1010 244h1v2h-1zM586 324h1v2h-1zM695 249h1v2h-1zM124 169h1v1h-1zM887 181h1v2h-1zM558 370h1v1h-1zM815 184h1v1h-1zM485 404h1v1h-1zM1025 259h1v1h-1zM4 225h1v1h-1zM959 169h1v2h-1zM204 246h1v1h-1zM400 318h1v2h-1zM710 225h1v1h-1zM543 386h1v1h-1zM566 359h1v2h-1zM867 199h1v1h-1zM156 196h1v1h-1zM470 392h1v2h-1zM54 185h1v1h-1zM473 396h1v2h-1zM51 188h1v1h-1zM582 331h1v1h-1zM746 183h1v1h-1zM1003 235h1v1h-1zM78 160h1v1h-1zM474 398h1v1h-1zM561 366h1v1h-1zM714 218h1v2h-1zM171 208h1v1h-1zM706 231h1v2h-1zM814 183h1v1h-1zM531 397h1v2h-1zM104 154h1v1h-1zM698 246h1v1h-1zM18 212h1v1h-1zM741 189h1v1h-1zM890 178h1v1h-1zM7 221h1v2h-1zM73 166h1v1h-1zM30 204h1v1h-1zM613 296h1v1h-1zM1013 248h1v1h-1zM1108 229h1v1h-1zM578 337h1v2h-1zM526 404h1v1h-1zM1014 249h1v1h-1zM455 371h1v1h-1zM332 291h1v1h-1zM702 239h1v2h-1zM821 190h1v1h-1zM1101 235h1v1h-1zM605 305h1v2h-1zM608 302h1v1h-1zM388 308h1v1h-1zM550 379h1v1h-1zM428 353h1v1h-1zM726 205h1v1h-1zM459 377h1v1h-1zM1020 255h1v1h-1zM61 178h1v1h-1zM1002 234h1v1h-1zM1021 256h1v1h-1zM193 235h1v1h-1zM137 182h1v1h-1zM534 394h1v1h-1zM701 241h1v2h-1zM625 283h1v1h-1zM138 183h1v1h-1zM1066 263h1v1h-1zM670 263h1v1h-1zM518 413h1v1h-1zM538 391h1v1h-1zM862 204h1v1h-1zM49 190h1v1h-1zM38 199h1v1h-1zM958 168h1v1h-1zM620 289h1v1h-1zM1112 226h1v1h-1zM589 320h1v1h-1zM565 361h1v2h-1zM718 214h1v1h-1zM458 375h1v2h-1zM399 317h1v1h-1zM553 375h1v1h-1zM962 173h1v2h-1zM1105 232h1v1h-1zM410 334h1v2h-1zM454 369h1v2h-1zM462 381h1v2h-1zM167 205h1v1h-1zM713 220h1v2h-1zM186 226h1v2h-1zM130 174h1v1h-1zM733 198h1v1h-1zM736 194h1v1h-1zM65 175h1v1h-1zM705 233h1v2h-1zM100 151h1v1h-1zM1069 260h1v1h-1zM192 234h1v1h-1zM977 194h1v2h-1zM338 297h1v1h-1zM1001 232h1v2h-1zM58 181h1v1h-1zM1073 257h1v1h-1zM1093 244h1v1h-1zM1096 240h1v1h-1zM383 304h1v1h-1zM709 226h1v2h-1zM525 405h1v2h-1zM545 384h1v1h-1zM721 210h1v1h-1zM384 305h1v1h-1zM126 171h1v1h-1zM56 183h1v1h-1zM199 241h1v1h-1zM129 173h1v1h-1zM596 313h1v1h-1zM487 406h1v1h-1zM200 242h1v1h-1zM457 374h1v1h-1zM46 193h1v1h-1zM275 272h1v1h-1zM144 188h1v1h-1zM316 282h1v1h-1zM461 380h1v1h-1zM827 196h1v1h-1zM6 223h1v1h-1zM892 176h1v1h-1zM185 224h1v2h-1zM402 321h1v1h-1zM472 395h1v1h-1zM44 195h1v1h-1zM270 269h1v1h-1zM615 294h1v1h-1zM557 371h1v1h-1zM118 161h1v2h-1zM968 180h1v1h-1zM191 232h1v2h-1zM976 192h1v2h-1zM1005 238h1v1h-1zM572 347h1v2h-1zM969 181h1v1h-1zM162 201h1v1h-1zM552 376h1v2h-1zM125 170h1v1h-1zM728 203h1v1h-1zM869 197h1v1h-1zM654 272h1v1h-1zM600 310h1v1h-1zM712 222h1v1h-1zM312 279h1v1h-1zM873 194h1v1h-1zM53 186h1v1h-1zM413 339h1v2h-1zM748 181h1v1h-1zM700 243h1v2h-1zM604 307h1v1h-1zM560 367h1v2h-1zM435 358h1v1h-1zM563 364h1v1h-1zM1016 251h1v1h-1zM438 360h1v1h-1zM520 411h1v1h-1zM961 172h1v1h-1zM465 385h1v2h-1zM409 332h1v2h-1zM540 389h1v1h-1zM1061 268h1v1h-1zM896 173h1v1h-1zM181 217h1v2h-1zM406 326h1v2h-1zM979 198h1v1h-1zM743 186h1v2h-1zM9 219h1v1h-1zM708 228h1v2h-1zM533 395h1v1h-1zM697 247h1v1h-1zM380 302h1v1h-1zM740 190h1v1h-1zM889 179h1v1h-1zM975 190h1v2h-1zM72 167h1v1h-1zM612 297h1v1h-1zM816 185h1v1h-1zM880 188h1v1h-1zM139 184h1v1h-1zM311 278h1v1h-1zM1026 260h1v1h-1zM692 253h1v1h-1zM1008 242h1v1h-1zM140 185h1v1h-1zM884 185h1v1h-1zM1100 236h1v1h-1zM704 235h1v2h-1zM960 171h1v1h-1zM607 303h1v1h-1zM460 378h1v2h-1zM266 266h1v1h-1zM401 320h1v1h-1zM752 178h1v1h-1zM60 179h1v1h-1zM1075 255h1v1h-1zM412 337h1v2h-1zM1095 241h1v2h-1zM333 292h1v1h-1zM732 199h1v1h-1zM591 318h1v1h-1zM1068 261h1v1h-1zM334 293h1v1h-1zM416 344h1v1h-1zM864 202h1v1h-1zM132 176h1v1h-1zM82 157h1v1h-1zM517 414h1v1h-1zM184 222h1v2h-1zM622 287h1v1h-1zM861 205h1v1h-1zM17 213h1v1h-1zM194 236h1v1h-1zM48 191h1v1h-1zM619 290h1v1h-1zM555 373h1v1h-1zM75 163h1v1h-1zM720 211h1v1h-1zM1107 230h1v1h-1zM195 237h1v1h-1zM570 351h1v2h-1zM953 162h1v1h-1zM262 263h1v1h-1zM735 195h1v2h-1zM1111 227h1v1h-1zM738 192h1v1h-1zM1015 250h1v1h-1zM67 173h1v1h-1zM70 169h1v1h-1zM822 191h1v1h-1zM415 342h1v2h-1zM610 299h1v1h-1zM715 217h1v1h-1zM131 175h1v1h-1zM408 330h1v2h-1zM823 192h1v1h-1zM202 244h1v1h-1zM963 175h1v1h-1zM5 224h1v1h-1zM1098 238h1v1h-1zM964 176h1v1h-1zM187 228h1v1h-1zM547 382h1v1h-1zM1022 257h1v1h-1zM723 208h1v1h-1zM464 384h1v1h-1zM117 160h1v1h-1zM86 154h1v1h-1zM974 188h1v2h-1zM524 407h1v1h-1zM711 223h1v2h-1zM180 215h1v2h-1zM1007 240h1v2h-1zM703 237h1v2h-1zM55 184h1v1h-1zM595 314h1v1h-1zM971 183h1v1h-1zM1063 266h1v1h-1zM11 217h1v1h-1zM411 336h1v1h-1zM699 245h1v1h-1zM891 177h1v1h-1zM559 369h1v1h-1zM463 383h1v1h-1zM201 243h1v1h-1zM43 196h1v1h-1zM35 201h1v1h-1zM182 219h1v2h-1zM407 328h1v2h-1zM895 174h1v1h-1zM527 403h1v1h-1zM694 251h1v1h-1zM574 344h1v1h-1zM886 183h1v1h-1zM183 221h1v1h-1zM577 339h1v2h-1zM981 200h1v2h-1zM875 192h1v1h-1zM730 201h1v1h-1zM970 182h1v1h-1zM250 256h1v1h-1zM179 214h1v1h-1zM879 189h1v1h-1zM404 323h1v1h-1zM868 198h1v1h-1zM1006 239h1v1h-1zM883 186h1v1h-1zM1070 259h1v1h-1zM617 292h1v1h-1zM488 407h1v1h-1zM542 387h1v1h-1zM562 365h1v1h-1zM866 200h1v1h-1zM418 347h1v2h-1zM519 412h1v1h-1zM489 408h1v1h-1zM27 206h1v1h-1zM535 393h1v1h-1zM742 188h1v1h-1zM8 220h1v1h-1zM707 230h1v1h-1zM414 341h1v1h-1zM590 319h1v1h-1zM403 322h1v1h-1zM614 295h1v1h-1zM569 353h1v2h-1zM466 387h1v1h-1zM585 326h1v1h-1zM119 163h1v1h-1zM530 399h1v1h-1zM948 158h1v1h-1zM3 226h1v1h-1zM980 199h1v1h-1zM1102 234h1v1h-1zM69 170h1v2h-1zM336 295h1v1h-1zM609 300h1v2h-1zM999 230h1v1h-1zM554 374h1v1h-1zM973 186h1v2h-1zM522 409h1v1h-1zM62 177h1v1h-1zM817 186h1v1h-1zM208 249h1v1h-1zM581 332h1v2h-1zM1086 249h1v1h-1zM734 197h1v1h-1zM1074 256h1v1h-1zM395 313h1v1h-1zM66 174h1v1h-1zM818 187h1v1h-1zM549 380h1v1h-1zM593 316h1v1h-1zM197 239h1v1h-1zM725 206h1v1h-1zM745 184h1v1h-1zM396 314h1v1h-1zM77 161h1v1h-1zM417 345h1v2h-1zM573 345h1v2h-1zM1017 252h1v1h-1zM267 267h1v1h-1zM863 203h1v1h-1zM335 294h1v1h-1zM824 193h1v1h-1zM81 158h1v1h-1zM50 189h1v1h-1zM621 288h1v1h-1zM722 209h1v1h-1zM825 194h1v1h-1zM207 248h1v1h-1zM984 204h1v2h-1zM189 230h1v1h-1zM987 209h1v2h-1zM995 223h1v1h-1zM717 215h1v1h-1zM737 193h1v1h-1zM1009 243h1v1h-1zM196 238h1v1h-1zM954 163h1v1h-1zM1097 239h1v1h-1zM584 327h1v2h-1zM955 164h1v1h-1zM624 284h1v1h-1zM546 383h1v1h-1zM870 196h1v1h-1zM659 269h1v1h-1zM57 182h1v1h-1zM998 228h1v2h-1zM203 245h1v1h-1zM1092 245h1v1h-1zM874 193h1v1h-1zM133 177h1v1h-1zM729 202h1v1h-1zM308 276h1v1h-1zM588 321h1v1h-1zM544 385h1v1h-1zM469 391h1v1h-1zM1065 264h1v1h-1zM122 167h1v1h-1zM994 221h1v2h-1zM972 184h1v2h-1zM21 210h1v1h-1zM580 334h1v2h-1zM391 310h1v1h-1zM838 203h1v1h-1zM431 355h1v1h-1zM983 203h1v1h-1zM991 216h1v1h-1zM1062 267h1v1h-1zM392 311h1v1h-1zM159 198h1v1h-1zM10 218h1v1h-1zM170 207h1v1h-1zM432 356h1v1h-1zM484 403h1v1h-1zM45 194h1v1h-1zM263 264h1v1h-1zM616 293h1v1h-1zM1115 224h1v1h-1zM14 215h1v1h-1zM490 409h1v1h-1zM568 355h1v2h-1zM491 410h1v1h-1zM965 177h1v1h-1zM405 324h1v2h-1zM188 229h1v1h-1zM693 252h1v1h-1zM997 226h1v2h-1zM468 390h1v1h-1zM885 184h1v1h-1zM121 165h1v2h-1zM68 172h1v1h-1zM949 159h1v1h-1zM812 181h1v1h-1zM982 202h1v1h-1zM990 214h1v2h-1zM564 363h1v1h-1zM950 160h1v1h-1zM813 182h1v1h-1zM599 311h1v1h-1zM521 410h1v1h-1zM541 388h1v1h-1zM103 153h1v1h-1zM52 187h1v1h-1zM603 308h1v1h-1zM592 317h1v1h-1zM1012 247h1v1h-1zM724 207h1v1h-1zM744 185h1v1h-1zM76 162h1v1h-1zM957 167h1v1h-1zM820 189h1v1h-1zM323 286h1v1h-1zM529 400h1v1h-1zM387 307h1v1h-1zM532 396h1v1h-1zM696 248h1v1h-1zM398 316h1v1h-1zM165 203h1v1h-1zM576 341h1v1h-1zM888 180h1v1h-1zM556 372h1v1h-1zM155 195h1v1h-1zM611 298h1v1h-1zM835 201h1v1h-1zM166 204h1v1h-1zM259 261h1v1h-1zM136 181h1v1h-1zM120 164h1v1h-1zM147 190h1v1h-1zM986 208h1v1h-1zM551 378h1v1h-1zM1099 237h1v1h-1zM727 204h1v1h-1zM150 192h1v1h-1zM747 182h1v1h-1zM830 198h1v1h-1zM548 381h1v1h-1zM1011 246h1v1h-1zM751 179h1v1h-1zM865 201h1v1h-1zM1060 269h1v1h-1zM83 156h1v1h-1z" fill="#ff0000"/><path d="M232 246h3v1h-3zM803 208h2v1h-2zM45 169h2v1h-2zM56 169h2v1h-2zM719 169h2v1h-2zM208 244h8v1h-8zM224 244h6v1h-6zM43 168h2v1h-2zM58 168h2v1h-2zM721 168h2v1h-2zM823 216h3v1h-3zM77 151h2v1h-2zM30 163h4v1h-4zM730 163h2v1h-2zM37 165h2v1h-2zM64 165h2v1h-2zM726 165h2v1h-2zM185 257h4v1h-4zM826 217h3v1h-3zM847 217h2v1h-2zM499 434h2v1h-2zM805 209h4v1h-4zM329 279h3v1h-3zM1025 279h3v1h-3zM286 311h2v1h-2zM312 288h2v1h-2zM341 288h4v1h-4zM621 288h2v1h-2zM638 288h2v1h-2zM391 335h5v1h-5zM288 312h2v1h-2zM81 149h2v1h-2zM751 149h2v1h-2zM495 432h2v1h-2zM216 243h8v1h-8zM487 428h2v1h-2zM1108 204h2v1h-2zM612 283h2v1h-2zM235 247h9v1h-9zM489 429h2v1h-2zM339 289h2v1h-2zM623 289h3v1h-3zM636 289h2v1h-2zM87 144h2v1h-2zM309 290h2v1h-2zM626 290h10v1h-10zM617 286h2v1h-2zM642 286h2v1h-2zM351 291h2v1h-2zM1007 291h2v1h-2zM284 310h2v1h-2zM317 285h2v1h-2zM615 285h2v1h-2zM181 256h4v1h-4zM189 256h2v1h-2zM79 150h2v1h-2zM753 150h2v1h-2zM39 166h2v1h-2zM62 166h2v1h-2zM724 166h2v1h-2zM162 262h3v1h-3zM460 401h9v1h-9zM321 282h2v1h-2zM165 263h4v1h-4zM1079 225h2v1h-2zM1110 203h2v1h-2zM1112 202h2v1h-2zM816 213h2v1h-2zM579 266h9v1h-9zM47 170h2v1h-2zM54 170h2v1h-2zM41 167h2v1h-2zM60 167h2v1h-2zM422 382h2v1h-2zM447 393h5v1h-5zM841 221h3v1h-3zM1088 221h6v1h-6zM179 255h2v1h-2zM191 255h3v1h-3zM1049 255h2v1h-2zM49 171h2v1h-2zM52 171h2v1h-2zM716 171h2v1h-2zM818 214h3v1h-3zM323 281h2v1h-2zM609 281h2v1h-2zM1019 281h2v1h-2zM34 164h3v1h-3zM66 164h2v1h-2zM728 164h2v1h-2zM27 162h3v1h-3zM748 147h2v1h-2zM791 196h2v1h-2zM158 260h2v1h-2zM485 427h2v1h-2zM194 254h2v1h-2zM1015 284h2v1h-2zM833 219h4v1h-4zM1114 201h2v1h-2zM821 215h2v1h-2zM325 280h4v1h-4zM607 280h2v1h-2zM1021 280h4v1h-4zM435 391h4v1h-4zM413 380h2v1h-2zM426 380h2v1h-2zM590 268h2v1h-2zM592 269h2v1h-2zM837 220h4v1h-4zM204 245h4v1h-4zM230 245h2v1h-2zM156 259h2v1h-2zM455 397h2v1h-2zM169 264h3v1h-3zM604 278h2v1h-2zM290 313h2v1h-2zM899 121h4v1h-4zM812 211h2v1h-2zM599 274h2v1h-2zM417 383h2v1h-2zM420 383h2v1h-2zM814 212h2v1h-2zM375 323h3v1h-3zM424 381h2v1h-2zM491 430h2v1h-2zM314 287h2v1h-2zM345 287h3v1h-3zM619 287h2v1h-2zM640 287h2v1h-2zM594 270h2v1h-2zM903 122h6v1h-6zM373 324h2v1h-2zM1083 222h5v1h-5zM439 392h8v1h-8zM588 267h2v1h-2zM160 261h2v1h-2zM829 218h4v1h-4zM387 334h4v1h-4zM1045 258h2v1h-2zM493 431h2v1h-2zM909 123h4v1h-4zM378 322h2v1h-2zM371 325h2v1h-2zM809 210h3v1h-3zM913 124h3v1h-3zM497 433h2v1h-2zM400 347h1v2h-1zM511 434h1v2h-1zM952 194h1v3h-1zM124 175h1v3h-1zM471 407h1v2h-1zM408 368h1v3h-1zM258 273h1v2h-1zM973 245h1v2h-1zM537 361h1v3h-1zM981 259h1v2h-1zM401 349h1v3h-1zM145 234h1v3h-1zM1068 236h1v1h-1zM452 394h1v1h-1zM970 239h1v2h-1zM885 149h1v3h-1zM363 312h1v2h-1zM382 326h1v2h-1zM897 124h1v2h-1zM128 187h1v4h-1zM562 291h1v4h-1zM516 424h1v2h-1zM528 389h1v5h-1zM385 331h1v1h-1zM919 130h1v2h-1zM864 194h1v2h-1zM540 354h1v2h-1zM649 279h1v1h-1zM876 169h1v2h-1zM888 142h1v2h-1zM71 159h1v1h-1zM778 182h1v1h-1zM367 319h1v1h-1zM134 206h1v2h-1zM507 442h1v1h-1zM244 248h1v2h-1zM142 227h1v2h-1zM337 286h1v2h-1zM923 137h1v1h-1zM853 212h1v1h-1zM998 289h1v1h-1zM1107 205h1v1h-1zM784 189h1v1h-1zM545 343h1v2h-1zM152 250h1v3h-1zM941 163h1v2h-1zM1056 248h1v1h-1zM893 132h1v2h-1zM127 184h1v3h-1zM137 214h1v3h-1zM785 190h1v1h-1zM1013 286h1v1h-1zM880 161h1v2h-1zM410 374h1v3h-1zM561 295h1v3h-1zM733 161h1v1h-1zM962 222h1v2h-1zM934 151h1v2h-1zM1033 273h1v1h-1zM109 144h1v2h-1zM672 240h1v1h-1zM120 163h1v3h-1zM548 335h1v3h-1zM705 188h1v2h-1zM983 263h1v2h-1zM937 156h1v1h-1zM299 305h1v1h-1zM736 157h1v1h-1zM681 227h1v2h-1zM138 217h1v2h-1zM474 413h1v2h-1zM556 312h1v4h-1zM1006 292h1v1h-1zM976 250h1v2h-1zM948 179h1v4h-1zM762 160h1v1h-1zM770 172h1v2h-1zM5 190h1v1h-1zM91 141h1v1h-1zM544 345h1v2h-1zM94 137h1v1h-1zM123 172h1v3h-1zM254 265h1v2h-1zM977 252h1v2h-1zM709 181h1v1h-1zM1075 229h1v1h-1zM763 161h1v1h-1zM980 257h1v2h-1zM306 294h1v2h-1zM776 180h1v1h-1zM144 232h1v2h-1zM856 209h1v1h-1zM429 383h1v1h-1zM892 134h1v2h-1zM859 205h1v2h-1zM668 246h1v2h-1zM362 310h1v2h-1zM871 179h1v2h-1zM370 323h1v2h-1zM279 304h1v1h-1zM1041 263h1v1h-1zM700 199h1v2h-1zM777 181h1v1h-1zM660 261h1v2h-1zM918 129h1v1h-1zM536 364h1v2h-1zM524 407h1v3h-1zM573 273h1v2h-1zM13 181h1v1h-1zM197 252h1v1h-1zM280 305h1v1h-1zM739 154h1v1h-1zM884 152h1v3h-1zM955 203h1v3h-1zM940 161h1v2h-1zM568 281h1v1h-1zM336 285h1v1h-1zM515 426h1v2h-1zM799 203h1v2h-1zM148 241h1v3h-1zM302 300h1v2h-1zM1063 241h1v1h-1zM961 220h1v2h-1zM151 248h1v2h-1zM664 253h1v2h-1zM1017 283h1v1h-1zM131 197h1v3h-1zM477 418h1v1h-1zM108 143h1v1h-1zM656 268h1v2h-1zM1001 293h1v1h-1zM539 356h1v3h-1zM688 220h1v1h-1zM765 164h1v2h-1zM97 133h1v2h-1zM470 405h1v2h-1zM257 271h1v2h-1zM117 155h1v3h-1zM972 243h1v2h-1zM473 411h1v2h-1zM564 287h1v2h-1zM355 294h1v2h-1zM975 249h1v1h-1zM947 176h1v3h-1zM766 166h1v1h-1zM130 194h1v3h-1zM272 296h1v1h-1zM484 426h1v1h-1zM704 190h1v2h-1zM253 263h1v2h-1zM531 376h1v4h-1zM527 394h1v5h-1zM652 275h1v2h-1zM428 381h1v2h-1zM1028 278h1v1h-1zM366 317h1v2h-1zM133 203h1v3h-1zM294 310h1v1h-1zM969 237h1v2h-1zM519 418h1v2h-1zM547 338h1v3h-1zM21 170h1v1h-1zM369 322h1v1h-1zM141 225h1v2h-1zM712 176h1v2h-1zM1044 259h1v1h-1zM879 163h1v2h-1zM922 135h1v2h-1zM247 252h1v2h-1zM250 257h1v2h-1zM614 284h1v1h-1zM680 229h1v1h-1zM703 192h1v3h-1zM126 181h1v3h-1zM994 284h1v2h-1zM926 141h1v1h-1zM119 161h1v2h-1zM1036 269h1v2h-1zM1070 234h1v1h-1zM403 354h1v3h-1zM1039 265h1v2h-1zM178 256h1v1h-1zM271 295h1v1h-1zM101 134h1v1h-1zM851 214h1v1h-1zM896 126h1v2h-1zM552 324h1v3h-1zM863 196h1v3h-1zM743 150h1v1h-1zM708 182h1v2h-1zM1060 244h1v1h-1zM875 171h1v2h-1zM409 371h1v3h-1zM675 235h1v1h-1zM761 158h1v2h-1zM887 144h1v2h-1zM1098 216h1v1h-1zM844 220h1v1h-1zM982 261h1v2h-1zM535 366h1v3h-1zM469 403h1v2h-1zM958 212h1v3h-1zM256 269h1v2h-1zM699 201h1v2h-1zM173 262h1v1h-1zM971 241h1v2h-1zM399 344h1v3h-1zM560 298h1v4h-1zM951 191h1v3h-1zM868 185h1v2h-1zM12 182h1v2h-1zM431 385h1v2h-1zM769 170h1v2h-1zM883 155h1v2h-1zM1055 249h1v2h-1zM1058 246h1v1h-1zM24 166h1v1h-1zM715 172h1v1h-1zM384 329h1v2h-1zM281 306h1v2h-1zM692 215h1v2h-1zM530 380h1v5h-1zM750 148h1v1h-1zM925 139h1v2h-1zM862 199h1v2h-1zM671 241h1v2h-1zM70 160h1v1h-1zM576 270h1v1h-1zM432 387h1v1h-1zM683 225h1v1h-1zM1048 256h1v1h-1zM663 255h1v2h-1zM282 308h1v1h-1zM968 235h1v2h-1zM543 347h1v3h-1zM140 222h1v3h-1zM921 133h1v2h-1zM1106 206h1v1h-1zM246 251h1v1h-1zM350 290h1v1h-1zM950 187h1v4h-1zM458 399h1v1h-1zM510 436h1v2h-1zM93 138h1v2h-1zM867 187h1v3h-1zM559 302h1v3h-1zM990 277h1v2h-1zM571 276h1v1h-1zM886 146h1v3h-1zM964 226h1v2h-1zM264 285h1v2h-1zM891 136h1v2h-1zM563 289h1v2h-1zM786 191h1v1h-1zM118 158h1v3h-1zM526 399h1v4h-1zM858 207h1v1h-1zM606 279h1v1h-1zM798 202h1v1h-1zM936 154h1v2h-1zM954 200h1v3h-1zM1101 212h1v2h-1zM136 211h1v3h-1zM659 263h1v1h-1zM111 147h1v1h-1zM1067 237h1v1h-1zM787 192h1v1h-1zM129 191h1v3h-1zM147 239h1v2h-1zM651 277h1v1h-1zM305 296h1v1h-1zM764 162h1v2h-1zM112 148h1v1h-1zM555 316h1v3h-1zM567 282h1v2h-1zM521 414h1v2h-1zM878 165h1v2h-1zM480 421h1v2h-1zM855 210h1v1h-1zM73 156h1v1h-1zM245 250h1v1h-1zM667 248h1v1h-1zM122 169h1v3h-1zM398 342h1v2h-1zM406 363h1v3h-1zM723 167h1v1h-1zM143 229h1v3h-1zM655 270h1v1h-1zM551 327h1v3h-1zM514 428h1v2h-1zM956 206h1v3h-1zM735 158h1v2h-1zM249 255h1v2h-1zM502 436h1v1h-1zM1035 271h1v1h-1zM361 308h1v2h-1zM454 396h1v1h-1zM301 302h1v2h-1zM738 155h1v1h-1zM100 132h1v2h-1zM895 128h1v2h-1zM1012 287h1v1h-1zM993 282h1v2h-1zM779 183h1v1h-1zM898 122h1v2h-1zM405 360h1v3h-1zM554 319h1v3h-1zM674 236h1v2h-1zM698 203h1v2h-1zM874 173h1v2h-1zM949 183h1v4h-1zM132 200h1v3h-1zM150 246h1v2h-1zM939 159h1v2h-1zM7 188h1v1h-1zM989 275h1v2h-1zM125 178h1v3h-1zM358 300h1v3h-1zM1077 227h1v1h-1zM267 291h1v1h-1zM687 221h1v1h-1zM960 218h1v2h-1zM525 403h1v4h-1zM20 171h1v2h-1zM23 167h1v2h-1zM767 167h1v2h-1zM472 409h1v2h-1zM711 178h1v1h-1zM176 258h1v1h-1zM757 153h1v2h-1zM1074 230h1v1h-1zM76 152h1v1h-1zM199 250h1v1h-1zM768 169h1v1h-1zM453 395h1v1h-1zM468 402h1v1h-1zM542 350h1v2h-1zM255 267h1v2h-1zM946 174h1v2h-1zM15 178h1v2h-1zM416 382h1v1h-1zM386 332h1v2h-1zM18 174h1v2h-1zM1038 267h1v1h-1zM274 298h1v1h-1zM252 261h1v2h-1zM601 275h1v1h-1zM509 438h1v2h-1zM967 233h1v2h-1zM1065 239h1v1h-1zM430 384h1v1h-1zM866 190h1v2h-1zM570 277h1v2h-1zM368 320h1v2h-1zM869 183h1v2h-1zM707 184h1v2h-1zM1062 242h1v1h-1zM266 289h1v2h-1zM534 369h1v2h-1zM248 254h1v1h-1zM360 305h1v3h-1zM693 213h1v2h-1zM943 167h1v3h-1zM846 218h1v1h-1zM99 131h1v1h-1zM96 135h1v1h-1zM992 280h1v2h-1zM404 357h1v3h-1zM658 264h1v2h-1zM550 330h1v3h-1zM850 215h1v1h-1zM882 157h1v2h-1zM800 205h1v1h-1zM149 244h1v2h-1zM938 157h1v2h-1zM139 219h1v3h-1zM26 163h1v2h-1zM932 148h1v2h-1zM1081 224h1v1h-1zM928 143h1v1h-1zM263 283h1v2h-1zM1003 295h1v1h-1zM861 201h1v2h-1zM520 416h1v2h-1zM529 385h1v4h-1zM69 161h1v2h-1zM415 381h1v1h-1zM959 215h1v3h-1zM801 206h1v1h-1zM478 419h1v1h-1zM273 297h1v1h-1zM558 305h1v4h-1zM1030 276h1v1h-1zM533 371h1v3h-1zM662 257h1v2h-1zM296 308h1v1h-1zM771 174h1v1h-1zM172 263h1v1h-1zM316 286h1v1h-1zM114 150h1v2h-1zM1105 207h1v2h-1zM84 147h1v1h-1zM308 291h1v1h-1zM654 271h1v2h-1zM479 420h1v1h-1zM513 430h1v2h-1zM11 184h1v1h-1zM146 237h1v2h-1zM501 435h1v1h-1zM1054 251h1v1h-1zM873 175h1v2h-1zM320 283h1v1h-1zM702 195h1v2h-1zM251 259h1v2h-1zM135 208h1v3h-1zM745 148h1v1h-1zM945 172h1v2h-1zM670 243h1v1h-1zM397 339h1v3h-1zM1072 232h1v1h-1zM1100 214h1v1h-1zM434 389h1v2h-1zM121 166h1v3h-1zM682 226h1v1h-1zM966 231h1v2h-1zM995 286h1v1h-1zM890 138h1v2h-1zM677 232h1v2h-1zM304 297h1v2h-1zM793 197h1v1h-1zM265 287h1v2h-1zM103 136h1v2h-1zM153 253h1v2h-1zM988 273h1v2h-1zM996 287h1v1h-1zM175 259h1v2h-1zM1010 289h1v1h-1zM857 208h1v1h-1zM666 249h1v2h-1zM72 157h1v2h-1zM1002 294h1v1h-1zM596 271h1v1h-1zM475 415h1v2h-1zM714 173h1v2h-1zM262 281h1v2h-1zM14 180h1v1h-1zM597 272h1v1h-1zM566 284h1v1h-1zM685 223h1v1h-1zM553 322h1v2h-1zM673 238h1v2h-1zM697 205h1v2h-1zM578 267h1v1h-1zM407 366h1v2h-1zM611 282h1v1h-1zM557 309h1v3h-1zM549 333h1v2h-1zM504 438h1v2h-1zM1103 210h1v1h-1zM433 388h1v1h-1zM991 279h1v1h-1zM411 377h1v2h-1zM1069 235h1v1h-1zM927 142h1v1h-1zM359 303h1v2h-1zM102 135h1v1h-1zM661 259h1v2h-1zM532 374h1v2h-1zM987 271h1v2h-1zM541 352h1v2h-1zM459 400h1v1h-1zM650 278h1v1h-1zM877 167h1v2h-1zM653 273h1v2h-1zM307 292h1v2h-1zM740 153h1v1h-1zM755 151h1v1h-1zM75 153h1v2h-1zM508 440h1v2h-1zM106 140h1v2h-1zM1095 219h1v1h-1zM569 279h1v2h-1zM701 197h1v2h-1zM523 410h1v2h-1zM756 152h1v1h-1zM481 423h1v1h-1zM198 251h1v1h-1zM788 193h1v1h-1zM645 284h1v1h-1zM1057 247h1v1h-1zM648 280h1v1h-1zM1014 285h1v1h-1zM657 266h1v2h-1zM482 424h1v1h-1zM113 149h1v1h-1zM789 194h1v1h-1zM1037 268h1v1h-1zM9 186h1v1h-1zM1052 253h1v1h-1zM283 309h1v1h-1zM944 170h1v2h-1zM6 189h1v1h-1zM689 219h1v1h-1zM665 251h1v2h-1zM95 136h1v1h-1zM732 162h1v1h-1zM603 277h1v1h-1zM298 306h1v1h-1zM333 281h1v2h-1zM1076 228h1v1h-1zM86 145h1v1h-1zM512 432h1v2h-1zM860 203h1v2h-1zM268 292h1v1h-1zM872 177h1v2h-1zM201 248h1v1h-1zM565 285h1v2h-1zM90 142h1v1h-1zM781 185h1v1h-1zM261 279h1v2h-1zM669 244h1v2h-1zM696 207h1v2h-1zM577 268h1v2h-1zM17 176h1v1h-1zM984 265h1v2h-1zM930 146h1v1h-1zM356 296h1v2h-1zM83 148h1v1h-1zM889 140h1v2h-1zM116 153h1v2h-1zM1064 240h1v1h-1zM744 149h1v1h-1zM155 257h1v2h-1zM1099 215h1v1h-1zM98 132h1v1h-1zM852 213h1v1h-1zM503 437h1v1h-1zM965 228h1v3h-1zM1005 293h1v1h-1zM396 337h1v2h-1zM780 184h1v1h-1zM929 144h1v2h-1zM1032 274h1v1h-1zM348 288h1v1h-1zM1009 290h1v1h-1zM1029 277h1v1h-1zM795 199h1v1h-1zM402 352h1v2h-1zM4 191h1v1h-1zM260 277h1v2h-1zM747 146h1v1h-1zM758 155h1v1h-1zM518 420h1v2h-1zM684 224h1v1h-1zM802 207h1v1h-1zM293 311h1v1h-1zM772 175h1v1h-1zM957 209h1v3h-1zM1071 233h1v1h-1zM1040 264h1v1h-1zM115 152h1v1h-1zM275 299h1v1h-1zM602 276h1v1h-1zM773 176h1v1h-1zM196 253h1v1h-1zM676 234h1v1h-1zM154 255h1v2h-1zM679 230h1v1h-1zM276 300h1v1h-1zM51 172h1v1h-1zM174 261h1v1h-1zM381 325h1v1h-1zM177 257h1v1h-1zM332 280h1v1h-1zM395 336h1v1h-1zM1059 245h1v1h-1zM506 441h1v1h-1zM986 269h1v2h-1zM104 138h1v1h-1zM997 288h1v1h-1zM783 187h1v2h-1zM598 273h1v1h-1zM105 139h1v1h-1zM933 150h1v1h-1zM1043 260h1v1h-1zM644 285h1v1h-1zM691 217h1v1h-1zM572 275h1v1h-1zM575 271h1v1h-1zM1047 257h1v1h-1zM1102 211h1v1h-1zM203 246h1v1h-1zM1051 254h1v1h-1zM695 209h1v2h-1zM742 151h1v1h-1zM794 198h1v1h-1zM1097 217h1v1h-1zM522 412h1v2h-1zM85 146h1v1h-1zM74 155h1v1h-1zM1066 238h1v1h-1zM412 379h1v1h-1zM647 281h1v2h-1zM89 143h1v1h-1zM953 197h1v3h-1zM985 267h1v2h-1zM16 177h1v1h-1zM357 298h1v2h-1zM1094 220h1v1h-1zM854 211h1v1h-1zM790 195h1v1h-1zM978 254h1v2h-1zM8 187h1v1h-1zM734 160h1v1h-1zM1034 272h1v1h-1zM380 323h1v2h-1zM300 304h1v1h-1zM277 301h1v2h-1zM979 256h1v1h-1zM775 178h1v2h-1zM1078 226h1v1h-1zM538 359h1v2h-1zM483 425h1v1h-1zM278 303h1v1h-1zM364 314h1v2h-1zM505 440h1v1h-1zM917 127h1v2h-1zM1082 223h1v1h-1zM92 140h1v1h-1zM1004 294h1v1h-1zM517 422h1v2h-1zM200 249h1v1h-1zM710 179h1v2h-1zM365 316h1v1h-1zM686 222h1v1h-1zM335 284h1v1h-1zM942 165h1v2h-1zM19 173h1v1h-1zM782 186h1v1h-1zM1042 261h1v2h-1zM999 290h1v2h-1zM963 224h1v2h-1zM546 341h1v2h-1zM269 293h1v1h-1zM107 142h1v1h-1zM746 147h1v1h-1zM1000 292h1v1h-1zM259 275h1v2h-1zM894 130h1v2h-1zM353 292h1v1h-1zM270 294h1v1h-1zM870 181h1v2h-1zM737 156h1v1h-1zM706 186h1v2h-1zM354 293h1v1h-1zM476 417h1v1h-1zM974 247h1v2h-1zM718 170h1v1h-1zM1018 282h1v1h-1zM694 211h1v2h-1zM845 219h1v1h-1zM774 177h1v1h-1zM1011 288h1v1h-1zM881 159h1v2h-1zM1031 275h1v1h-1zM297 307h1v1h-1zM383 328h1v1h-1zM916 125h1v2h-1zM22 169h1v1h-1zM334 283h1v1h-1zM68 163h1v1h-1zM3 192h1v1h-1zM295 309h1v1h-1zM865 192h1v2h-1zM1073 231h1v1h-1zM1104 209h1v1h-1zM931 147h1v1h-1zM457 398h1v1h-1zM319 284h1v1h-1zM935 153h1v1h-1zM678 231h1v1h-1zM760 157h1v1h-1zM303 299h1v1h-1zM849 216h1v1h-1zM1061 243h1v1h-1zM741 152h1v1h-1zM1096 218h1v1h-1zM920 132h1v1h-1zM349 289h1v1h-1zM25 165h1v1h-1zM419 384h1v1h-1zM713 175h1v1h-1zM646 283h1v1h-1zM10 185h1v1h-1zM796 200h1v1h-1zM924 138h1v1h-1zM311 289h1v1h-1zM690 218h1v1h-1zM797 201h1v1h-1zM574 272h1v1h-1zM759 156h1v1h-1zM292 312h1v1h-1zM110 146h1v1h-1zM338 288h1v1h-1zM1053 252h1v1h-1zM202 247h1v1h-1z" fill="#0000cd"/></g><rect x="752" y="147" width="460" height="6" fill="#f93636"/><rect x="759" y="218" width="451" height="3" fill="#96cc00"/><rect x="755" y="318" width="463" height="4" fill="#3794e4"/><path d="M1129 30h9v1h-9zM1130 31h7v1h-7zM1131 32h5v1h-5zM1132 33h3v1h-3zM1133 34h1v1h-1z" fill="#c0c0c0"/><g clip-path="url(#c2)"><rect x="3" y="583" width="1" height="50" fill="#c0c0c0"/><rect x="11" y="583" width="1" height="50" fill="#c0c0c0"/><rect x="19" y="583" width="1" height="50" fill="#c0c0c0"/><rect x="27" y="583" width="1" height="50" fill="#c0c0c0"/><rect x="35" y="585" width="1" height="48" fill="#c0c0c0"/><rect x="43" y="589" width="1" height="44" fill="#c0c0c0"/><rect x="51" y="588" width="1" height="45" fill="#c0c0c0"/><rect x="59" y="589" width="1" height="44" fill="#c0c0c0"/><rect x="67" y="589" width="1" height="44" fill="#c0c0c0"/><rect x="75" y="587" width="1" height="46" fill="#c0c0c0"/><rect x="83" y="589" width="1" height="44" fill="#c0c0c0"/><rect x="91" y="591" width="1" height="42" fill="#c0c0c0"/><rect x="99" y="592" width="1" height="41" fill="#c0c0c0"/><rect x="107" y="600" width="1" height="33" fill="#c0c0c0"/><rect x="115" y="606" width="1" height="27" fill="#c0c0c0"/><rect x="123" y="616" width="1" height="17" fill="#c0c0c0"/><rect x="131" y="623" width="1" height="10" fill="#c0c0c0"/><rect x="139" y="629" width="1" height="4" fill="#c0c0c0"/><rect x="147" y="631" width="1" height="2" fill="#c0c0c0"/><rect x="155" y="632" width="1" height="2" fill="#c0c0c0"/><rect x="163" y="632" width="1" height="3" fill="#c0c0c0"/><rect x="171" y="632" width="1" height="3" fill="#c0c0c0"/><rect x="179" y="632" width="1" height="3" fill="#c0c0c0"/><rect x="187" y="632" width="1" height="7" fill="#c0c0c0"/><rect x="195" y="632" width="1" height="7" fill="#c0c0c0"/><rect x="203" y="632" width="1" height="4" fill="#c0c0c0"/><rect x="211" y="632" width="1" height="4" fill="#c0c0c0"/><rect x="219" y="632" width="1" height="4" fill="#c0c0c0"/><rect x="227" y="632" width="1" height="4" fill="#c0c0c0"/><rect x="235" y="632" width="1" height="5" fill="#c0c0c0"/><rect x="243" y="632" width="1" height="8" fill="#c0c0c0"/><rect x="251" y="632" width="1" height="13" fill="#c0c0c0"/><rect x="259" y="632" width="1" height="17" fill="#c0c0c0"/><rect x="267" y="632" width="1" height="19" fill="#c0c0c0"/><rect x="275" y="632" width="1" height="19" fill="#c0c0c0"/><rect x="283" y="632" width="1" height="19" fill="#c0c0c0"/><rect x="291" y="632" width="1" height="17" fill="#c0c0c0"/><rect x="299" y="632" width="1" height="13" fill="#c0c0c0"/><rect x="307" y="632" width="1" height="9" fill="#c0c0c0"/><rect x="315" y="632" width="1" height="10" fill="#c0c0c0"/><rect x="323" y="632" width="1" height="11" fill="#c0c0c0"/><rect x="331" y="632" width="1" height="11" fill="#c0c0c0"/><rect x="339" y="632" width="1" height="16" fill="#c0c0c0"/><rect x="347" y="632" width="1" height="14" fill="#c0c0c0"/><rect x="355" y="632" width="1" height="13" fill="#c0c0c0"/><rect x="363" y="632" width="1" height="17" fill="#c0c0c0"/><rect x="371" y="632" width="1" height="20" fill="#c0c0c0"/><rect x="379" y="632" width="1" height="16" fill="#c0c0c0"/><rect x="387" y="632" width="1" height="18" fill="#c0c0c0"/><rect x="395" y="632" width="1" height="22" fill="#c0c0c0"/><rect x="403" y="632" width="1" height="25" fill="#c0c0c0"/><rect x="411" y="632" width="1" height="30" fill="#c0c0c0"/><rect x="419" y="632" width="1" height="33" fill="#c0c0c0"/><rect x="427" y="632" width="1" height="28" fill="#c0c0c0"/><rect x="435" y="632" width="1" height="26" fill="#c0c0c0"/><rect x="443" y="632" width="1" height="26" fill="#c0c0c0"/><rect x="451" y="632" width="1" height="27" fill="#c0c0c0"/><rect x="459" y="632" width="1" height="28" fill="#c0c0c0"/><rect x="467" y="632" width="1" height="30" fill="#c0c0c0"/><rect x="475" y="632" width="1" height="38" fill="#c0c0c0"/><rect x="483" y="632" width="1" height="35" fill="#c0c0c0"/><rect x="491" y="632" width="1" height="31" fill="#c0c0c0"/><rect x="499" y="632" width="1" height="28" fill="#c0c0c0"/><rect x="507" y="632" width="1" height="28" fill="#c0c0c0"/><rect x="515" y="632" width="1" height="23" fill="#c0c0c0"/><rect x="523" y="632" width="1" height="16" fill="#c0c0c0"/><rect x="531" y="632" width="1" height="8" fill="#c0c0c0"/><rect x="547" y="627" width="1" height="6" fill="#c0c0c0"/><rect x="555" y="620" width="1" height="13" fill="#c0c0c0"/><rect x="563" y="616" width="1" height="17" fill="#c0c0c0"/><rect x="571" y="614" width="1" height="19" fill="#c0c0c0"/><rect x="579" y="612" width="1" height="21" fill="#c0c0c0"/><rect x="587" y="614" width="1" height="19" fill="#c0c0c0"/><rect x="595" y="615" width="1" height="18" fill="#c0c0c0"/><rect x="603" y="616" width="1" height="17" fill="#c0c0c0"/><rect x="611" y="616" width="1" height="17" fill="#c0c0c0"/><rect x="619" y="616" width="1" height="17" fill="#c0c0c0"/><rect x="627" y="615" width="1" height="18" fill="#c0c0c0"/><rect x="635" y="614" width="1" height="19" fill="#c0c0c0"/><rect x="643" y="615" width="1" height="18" fill="#c0c0c0"/><rect x="651" y="614" width="1" height="19" fill="#c0c0c0"/><rect x="659" y="611" width="1" height="22" fill="#c0c0c0"/><rect x="667" y="607" width="1" height="26" fill="#c0c0c0"/><rect x="675" y="604" width="1" height="29" fill="#c0c0c0"/><rect x="683" y="604" width="1" height="29" fill="#c0c0c0"/><rect x="691" y="605" width="1" height="28" fill="#c0c0c0"/><rect x="699" y="602" width="1" height="31" fill="#c0c0c0"/><rect x="707" y="598" width="1" height="35" fill="#c0c0c0"/><rect x="715" y="594" width="1" height="39" fill="#c0c0c0"/><rect x="723" y="594" width="1" height="39" fill="#c0c0c0"/><rect x="731" y="594" width="1" height="39" fill="#c0c0c0"/><rect x="739" y="595" width="1" height="38" fill="#c0c0c0"/><rect x="747" y="597" width="1" height="36" fill="#c0c0c0"/><rect x="755" y="601" width="1" height="32" fill="#c0c0c0"/><rect x="763" y="605" width="1" height="28" fill="#c0c0c0"/><rect x="771" y="608" width="1" height="25" fill="#c0c0c0"/><rect x="779" y="612" width="1" height="21" fill="#c0c0c0"/><rect x="787" y="615" width="1" height="18" fill="#c0c0c0"/><rect x="795" y="617" width="1" height="16" fill="#c0c0c0"/><rect x="803" y="620" width="1" height="13" fill="#c0c0c0"/><rect x="811" y="621" width="1" height="12" fill="#c0c0c0"/><rect x="819" y="625" width="1" height="8" fill="#c0c0c0"/><rect x="827" y="626" width="1" height="7" fill="#c0c0c0"/><rect x="835" y="628" width="1" height="5" fill="#c0c0c0"/><rect x="843" y="629" width="1" height="4" fill="#c0c0c0"/><rect x="851" y="626" width="1" height="7" fill="#c0c0c0"/><rect x="859" y="623" width="1" height="10" fill="#c0c0c0"/><rect x="867" y="616" width="1" height="17" fill="#c0c0c0"/><rect x="875" y="614" width="1" height="19" fill="#c0c0c0"/><rect x="883" y="611" width="1" height="22" fill="#c0c0c0"/><rect x="891" y="608" width="1" height="25" fill="#c0c0c0"/><rect x="899" y="608" width="1" height="25" fill="#c0c0c0"/><rect x="907" y="611" width="1" height="22" fill="#c0c0c0"/><rect x="915" y="614" width="1" height="19" fill="#c0c0c0"/><rect x="923" y="618" width="1" height="15" fill="#c0c0c0"/><rect x="931" y="620" width="1" height="13" fill="#c0c0c0"/><rect x="939" y="624" width="1" height="9" fill="#c0c0c0"/><rect x="947" y="628" width="1" height="5" fill="#c0c0c0"/><rect x="955" y="632" width="1" height="5" fill="#c0c0c0"/><rect x="963" y="632" width="1" height="12" fill="#c0c0c0"/><rect x="971" y="632" width="1" height="16" fill="#c0c0c0"/><rect x="979" y="632" width="1" height="18" fill="#c0c0c0"/><rect x="987" y="632" width="1" height="22" fill="#c0c0c0"/><rect x="995" y="632" width="1" height="23" fill="#c0c0c0"/><rect x="1003" y="632" width="1" height="23" fill="#c0c0c0"/><rect x="1011" y="632" width="1" height="22" fill="#c0c0c0"/><rect x="1019" y="632" width="1" height="20" fill="#c0c0c0"/><rect x="1027" y="632" width="1" height="19" fill="#c0c0c0"/><rect x="1035" y="632" width="1" height="16" fill="#c0c0c0"/><rect x="1043" y="632" width="1" height="13" fill="#c0c0c0"/><rect x="1051" y="632" width="1" height="12" fill="#c0c0c0"/><rect x="1059" y="632" width="1" height="8" fill="#c0c0c0"/><rect x="1067" y="632" width="1" height="6" fill="#c0c0c0"/><rect x="1075" y="632" width="1" height="2" fill="#c0c0c0"/><rect x="1083" y="632" width="1" height="1" fill="#c0c0c0"/><rect x="1091" y="632" width="1" height="1" fill="#c0c0c0"/><rect x="1099" y="631" width="1" height="2" fill="#c0c0c0"/><rect x="1107" y="628" width="1" height="5" fill="#c0c0c0"/><rect x="1115" y="626" width="1" height="7" fill="#c0c0c0"/><path d="M87 587h3v1h-3zM105 589h3v1h-3zM22 582h2v1h-2zM27 582h3v1h-3zM33 582h3v1h-3zM39 582h3v1h-3zM45 582h3v1h-3zM417 653h2v1h-2zM387 648h3v1h-3zM550 648h2v1h-2zM1012 648h2v1h-2zM1065 648h3v1h-3zM285 645h2v1h-2zM345 645h3v1h-3zM363 645h3v1h-3zM369 645h3v1h-3zM1006 645h2v1h-2zM1077 645h2v1h-2zM189 632h3v1h-3zM574 632h2v1h-2zM1113 634h3v1h-3zM423 655h3v1h-3zM538 655h2v1h-2zM627 614h3v1h-3zM633 614h3v1h-3zM639 614h3v1h-3zM657 614h3v1h-3zM915 614h3v1h-3zM171 623h2v1h-2zM856 623h2v1h-2zM861 623h3v1h-3zM867 623h3v1h-3zM976 629h2v1h-2zM81 586h3v1h-3zM850 622h2v1h-2zM874 622h2v1h-2zM964 622h2v1h-2zM267 641h3v1h-3zM1089 641h3v1h-3zM255 639h3v1h-3zM562 639h2v1h-2zM1095 639h3v1h-3zM477 662h3v1h-3zM483 662h3v1h-3zM489 662h3v1h-3zM495 662h3v1h-3zM501 662h3v1h-3zM507 662h3v1h-3zM513 662h3v1h-3zM249 638h3v1h-3zM412 651h2v1h-2zM1023 651h3v1h-3zM1029 651h3v1h-3zM1047 651h3v1h-3zM435 657h3v1h-3zM441 657h2v1h-2zM454 659h2v1h-2zM459 659h3v1h-3zM735 598h3v1h-3zM741 598h2v1h-2zM777 598h3v1h-3zM544 652h2v1h-2zM1035 652h3v1h-3zM1041 652h3v1h-3zM621 615h2v1h-2zM645 615h3v1h-3zM651 615h3v1h-3zM825 615h3v1h-3zM909 615h3v1h-3zM946 615h2v1h-2zM111 590h3v1h-3zM3 581h3v1h-3zM9 581h3v1h-3zM15 581h3v1h-3zM598 619h2v1h-2zM837 619h3v1h-3zM892 619h2v1h-2zM957 619h2v1h-2zM717 602h3v1h-3zM789 602h2v1h-2zM352 644h2v1h-2zM357 644h3v1h-3zM333 646h3v1h-3zM339 646h3v1h-3zM375 646h3v1h-3zM1072 646h2v1h-2zM603 618h3v1h-3zM723 601h2v1h-2zM291 647h3v1h-3zM297 647h3v1h-3zM303 647h3v1h-3zM309 647h3v1h-3zM315 647h3v1h-3zM321 647h3v1h-3zM327 647h3v1h-3zM381 647h3v1h-3zM699 608h3v1h-3zM208 636h2v1h-2zM213 636h3v1h-3zM219 636h3v1h-3zM225 636h3v1h-3zM1107 636h2v1h-2zM129 597h2v1h-2zM747 597h3v1h-3zM753 597h3v1h-3zM759 597h3v1h-3zM765 597h3v1h-3zM771 597h3v1h-3zM232 637h2v1h-2zM237 637h3v1h-3zM243 637h3v1h-3zM988 637h2v1h-2zM1102 637h2v1h-2zM69 584h3v1h-3zM75 584h3v1h-3zM663 613h3v1h-3zM669 613h3v1h-3zM819 613h3v1h-3zM921 613h3v1h-3zM939 613h3v1h-3zM141 604h2v1h-2zM711 604h3v1h-3zM681 611h3v1h-3zM813 611h3v1h-3zM465 660h3v1h-3zM525 660h2v1h-2zM729 599h3v1h-3zM592 621h2v1h-2zM880 621h2v1h-2zM885 621h2v1h-2zM705 606h3v1h-3zM195 633h3v1h-3zM982 633h2v1h-2zM393 649h3v1h-3zM399 649h3v1h-3zM1059 649h3v1h-3zM117 592h3v1h-3zM94 588h2v1h-2zM99 588h3v1h-3zM405 650h3v1h-3zM1017 650h3v1h-3zM1053 650h3v1h-3zM615 616h3v1h-3zM903 616h3v1h-3zM273 642h3v1h-3zM51 583h3v1h-3zM57 583h3v1h-3zM63 583h3v1h-3zM783 600h3v1h-3zM261 640h3v1h-3zM994 640h2v1h-2zM202 635h2v1h-2zM568 635h2v1h-2zM429 656h3v1h-3zM447 658h3v1h-3zM531 658h3v1h-3zM279 643h3v1h-3zM1000 643h2v1h-2zM1083 643h3v1h-3zM580 628h2v1h-2zM586 624h2v1h-2zM843 620h2v1h-2zM687 610h3v1h-3zM471 661h3v1h-3zM519 661h3v1h-3zM609 617h3v1h-3zM831 617h2v1h-2zM898 617h2v1h-2zM952 617h2v1h-2zM693 609h3v1h-3zM807 609h3v1h-3zM184 630h2v1h-2zM801 607h3v1h-3zM153 612h2v1h-2zM675 612h3v1h-3zM927 612h3v1h-3zM933 612h3v1h-3zM177 626h2v1h-2zM796 605h2v1h-2zM123 594h2v1h-2zM93 587h1v1h-1zM179 627h1v1h-1zM873 623h1v1h-1zM1005 644h1v1h-1zM1071 647h1v1h-1zM543 653h1v1h-1zM945 614h1v1h-1zM561 640h1v1h-1zM969 624h1v1h-1zM125 595h1v1h-1zM970 625h1v1h-1zM993 639h1v1h-1zM131 598h1v1h-1zM556 644h1v1h-1zM160 616h1v1h-1zM166 620h1v1h-1zM585 625h1v1h-1zM555 645h1v1h-1zM527 659h1v1h-1zM149 610h1v1h-1zM453 658h1v1h-1zM231 636h1v1h-1zM591 622h1v1h-1zM137 602h1v1h-1zM845 621h1v1h-1zM167 621h1v1h-1zM597 620h1v1h-1zM849 621h1v1h-1zM161 617h1v1h-1zM971 626h1v1h-1zM143 605h1v1h-1zM623 614h1v1h-1zM887 620h1v1h-1zM1101 638h1v1h-1zM579 629h1v1h-1zM183 629h1v1h-1zM879 622h1v1h-1zM855 622h1v1h-1zM1079 644h1v1h-1zM1011 647h1v1h-1zM155 613h1v1h-1zM999 642h1v1h-1zM207 635h1v1h-1zM795 604h1v1h-1zM287 646h1v1h-1zM549 649h1v1h-1zM743 597h1v1h-1zM173 624h1v1h-1zM147 608h1v1h-1zM891 620h1v1h-1zM725 600h1v1h-1zM567 636h1v1h-1zM897 618h1v1h-1zM135 600h1v1h-1zM1109 635h1v1h-1zM833 618h1v1h-1zM201 634h1v1h-1zM951 616h1v1h-1zM963 621h1v1h-1zM791 603h1v1h-1zM537 656h1v1h-1zM148 609h1v1h-1zM959 620h1v1h-1zM987 636h1v1h-1zM411 650h1v1h-1zM21 581h1v1h-1zM443 658h1v1h-1zM557 643h1v1h-1zM573 633h1v1h-1zM981 632h1v1h-1zM165 619h1v1h-1zM351 645h1v1h-1zM136 601h1v1h-1zM419 654h1v1h-1zM975 628h1v1h-1zM159 615h1v1h-1z" fill="#ff0000"/></g><path d="M4 717.5H1418M4 768.5H1418" stroke="#c0c0c0" stroke-width="1" stroke-dasharray="3,3" fill="none"/><g clip-path="url(#c3)"><path d="M8 724h2v1h-2zM69 724h2v1h-2zM888 724h2v1h-2zM107 744h4v1h-4zM169 744h6v1h-6zM223 744h8v1h-8zM353 744h3v1h-3zM427 744h2v1h-2zM829 744h4v1h-4zM837 744h4v1h-4zM922 744h11v1h-11zM1045 744h4v1h-4zM251 760h4v1h-4zM986 760h2v1h-2zM155 746h10v1h-10zM330 746h2v1h-2zM431 746h3v1h-3zM483 746h17v1h-17zM823 746h2v1h-2zM935 746h3v1h-3zM175 743h5v1h-5zM215 743h8v1h-8zM349 743h4v1h-4zM827 743h2v1h-2zM841 743h3v1h-3zM919 743h3v1h-3zM1042 743h3v1h-3zM31 730h2v1h-2zM45 730h2v1h-2zM83 730h12v1h-12zM549 730h4v1h-4zM564 730h2v1h-2zM649 730h2v1h-2zM685 730h4v1h-4zM855 730h5v1h-5zM1105 730h11v1h-11zM4 726h2v1h-2zM26 726h2v1h-2zM51 726h17v1h-17zM658 726h2v1h-2zM884 726h2v1h-2zM303 738h5v1h-5zM520 738h2v1h-2zM587 738h4v1h-4zM757 738h2v1h-2zM1059 738h12v1h-12zM1077 738h2v1h-2zM111 745h5v1h-5zM165 745h4v1h-4zM231 745h5v1h-5zM429 745h2v1h-2zM833 745h4v1h-4zM933 745h2v1h-2zM1049 745h3v1h-3zM207 741h3v1h-3zM777 741h22v1h-22zM805 741h2v1h-2zM907 741h10v1h-10zM1038 741h2v1h-2zM1055 741h2v1h-2zM19 729h2v1h-2zM95 729h5v1h-5zM553 729h11v1h-11zM651 729h2v1h-2zM683 729h2v1h-2zM851 729h4v1h-4zM526 735h2v1h-2zM611 735h2v1h-2zM631 735h3v1h-3zM1095 735h2v1h-2zM149 750h2v1h-2zM191 750h2v1h-2zM279 750h6v1h-6zM319 750h5v1h-5zM506 750h2v1h-2zM944 750h2v1h-2zM1015 750h3v1h-3zM1021 750h4v1h-4zM210 742h5v1h-5zM347 742h2v1h-2zM799 742h6v1h-6zM917 742h2v1h-2zM1040 742h2v1h-2zM17 728h2v1h-2zM21 728h2v1h-2zM653 728h2v1h-2zM735 728h13v1h-13zM875 728h4v1h-4zM528 734h2v1h-2zM571 734h4v1h-4zM580 734h2v1h-2zM634 734h10v1h-10zM153 747h2v1h-2zM290 747h2v1h-2zM328 747h2v1h-2zM434 747h5v1h-5zM500 747h2v1h-2zM938 747h2v1h-2zM245 756h2v1h-2zM363 756h4v1h-4zM405 756h2v1h-2zM417 756h3v1h-3zM463 756h3v1h-3zM971 756h4v1h-4zM993 756h2v1h-2zM249 759h2v1h-2zM255 759h13v1h-13zM967 759h2v1h-2zM983 759h3v1h-3zM988 759h2v1h-2zM338 758h2v1h-2zM410 758h3v1h-3zM459 758h2v1h-2zM981 758h2v1h-2zM387 751h2v1h-2zM946 751h2v1h-2zM1013 751h2v1h-2zM1025 751h3v1h-3zM299 737h4v1h-4zM522 737h2v1h-2zM585 737h2v1h-2zM607 737h2v1h-2zM617 737h12v1h-12zM755 737h2v1h-2zM1071 737h6v1h-6zM73 721h2v1h-2zM667 721h9v1h-9zM700 721h2v1h-2zM130 752h18v1h-18zM389 752h4v1h-4zM1007 752h6v1h-6zM275 749h4v1h-4zM285 749h2v1h-2zM315 749h4v1h-4zM324 749h2v1h-2zM447 749h5v1h-5zM504 749h2v1h-2zM942 749h2v1h-2zM1018 749h3v1h-3zM127 753h3v1h-3zM393 753h4v1h-4zM1001 753h6v1h-6zM123 755h2v1h-2zM367 755h5v1h-5zM401 755h4v1h-4zM466 755h2v1h-2zM995 755h2v1h-2zM23 727h3v1h-3zM49 727h2v1h-2zM655 727h3v1h-3zM723 727h12v1h-12zM879 727h5v1h-5zM537 731h12v1h-12zM647 731h2v1h-2zM689 731h3v1h-3zM1101 731h4v1h-4zM407 757h3v1h-3zM413 757h4v1h-4zM461 757h2v1h-2zM975 757h6v1h-6zM991 757h2v1h-2zM957 764h4v1h-4zM39 732h5v1h-5zM533 732h4v1h-4zM567 732h2v1h-2zM1099 732h2v1h-2zM706 718h3v1h-3zM10 723h2v1h-2zM663 723h2v1h-2zM890 723h2v1h-2zM203 739h2v1h-2zM518 739h2v1h-2zM591 739h8v1h-8zM604 739h2v1h-2zM759 739h3v1h-3zM767 739h6v1h-6zM810 739h2v1h-2zM1079 739h3v1h-3zM1087 739h5v1h-5zM287 748h3v1h-3zM326 748h2v1h-2zM439 748h8v1h-8zM502 748h2v1h-2zM940 748h2v1h-2zM125 754h2v1h-2zM397 754h4v1h-4zM997 754h4v1h-4zM6 725h2v1h-2zM13 725h2v1h-2zM660 725h2v1h-2zM886 725h2v1h-2zM205 740h2v1h-2zM516 740h2v1h-2zM599 740h5v1h-5zM762 740h5v1h-5zM773 740h4v1h-4zM807 740h3v1h-3zM1036 740h2v1h-2zM1082 740h5v1h-5zM665 722h2v1h-2zM711 716h3v1h-3zM524 736h2v1h-2zM583 736h2v1h-2zM609 736h2v1h-2zM613 736h4v1h-4zM629 736h2v1h-2zM961 763h3v1h-3zM35 733h4v1h-4zM530 733h3v1h-3zM569 733h2v1h-2zM575 733h5v1h-5zM644 733h2v1h-2zM702 720h2v1h-2zM474 762h2v1h-2zM704 719h2v1h-2zM955 765h2v1h-2zM714 715h2v1h-2zM709 717h2v1h-2zM78 724h1v1h-1zM381 743h1v2h-1zM100 730h1v2h-1zM476 760h1v2h-1zM1031 745h1v1h-1zM1034 740h1v2h-1zM48 728h1v1h-1zM195 747h1v1h-1zM457 756h1v1h-1zM950 756h1v2h-1zM678 724h1v1h-1zM860 728h1v2h-1zM294 743h1v1h-1zM818 748h1v2h-1zM335 752h1v2h-1zM697 724h1v1h-1zM426 745h1v2h-1zM28 727h1v1h-1zM339 759h1v1h-1zM456 755h1v1h-1zM332 747h1v2h-1zM868 718h1v2h-1zM514 742h1v1h-1zM871 722h1v2h-1zM180 744h1v2h-1zM377 744h1v2h-1zM243 754h1v1h-1zM872 724h1v1h-1zM677 723h1v1h-1zM297 739h1v2h-1zM308 739h1v2h-1zM905 738h1v2h-1zM202 740h1v1h-1zM244 755h1v1h-1zM509 748h1v1h-1zM468 756h1v1h-1zM309 741h1v1h-1zM247 757h1v1h-1zM269 756h1v2h-1zM152 748h1v1h-1zM906 740h1v1h-1zM848 734h1v2h-1zM753 735h1v1h-1zM373 751h1v2h-1zM346 744h1v2h-1zM817 747h1v1h-1zM475 763h1v1h-1zM1030 746h1v2h-1zM236 746h1v1h-1zM77 722h1v2h-1zM183 748h1v2h-1zM844 741h1v2h-1zM722 725h1v2h-1zM345 746h1v2h-1zM81 727h1v2h-1zM293 744h1v2h-1zM904 737h1v1h-1zM1094 736h1v1h-1zM422 751h1v2h-1zM662 724h1v1h-1zM118 749h1v1h-1zM863 723h1v2h-1zM866 718h1v2h-1zM341 754h1v2h-1zM1098 733h1v1h-1zM334 751h1v1h-1zM197 745h1v1h-1zM106 742h1v2h-1zM338 757h1v1h-1zM190 751h1v1h-1zM182 747h1v1h-1zM68 725h1v1h-1zM455 753h1v2h-1zM383 746h1v1h-1zM897 729h1v1h-1zM874 726h1v2h-1zM80 726h1v1h-1zM384 747h1v1h-1zM699 722h1v1h-1zM752 734h1v1h-1zM311 743h1v2h-1zM357 747h1v1h-1zM337 755h1v2h-1zM965 761h1v1h-1zM896 728h1v1h-1zM333 749h1v2h-1zM1033 742h1v1h-1zM30 729h1v1h-1zM72 722h1v1h-1zM103 736h1v2h-1zM481 750h1v2h-1zM186 752h1v2h-1zM356 745h1v2h-1zM34 732h1v1h-1zM296 741h1v1h-1zM117 747h1v2h-1zM862 725h1v1h-1zM340 756h1v2h-1zM990 758h1v1h-1zM151 749h1v1h-1zM360 751h1v2h-1zM310 742h1v1h-1zM679 725h1v1h-1zM425 747h1v1h-1zM680 726h1v1h-1zM378 742h1v2h-1zM314 747h1v2h-1zM344 748h1v2h-1zM819 750h1v1h-1zM566 731h1v1h-1zM336 754h1v1h-1zM79 725h1v1h-1zM374 749h1v2h-1zM385 748h1v2h-1zM508 749h1v1h-1zM511 745h1v2h-1zM102 734h1v2h-1zM268 758h1v1h-1zM185 751h1v1h-1zM458 757h1v1h-1zM469 757h1v1h-1zM386 750h1v1h-1zM188 753h1v1h-1zM116 746h1v1h-1zM873 725h1v1h-1zM470 758h1v1h-1zM15 726h1v1h-1zM812 740h1v2h-1zM480 752h1v2h-1zM29 728h1v1h-1zM892 724h1v1h-1zM105 740h1v2h-1zM184 750h1v1h-1zM865 720h1v2h-1zM1093 737h1v1h-1zM424 748h1v2h-1zM101 732h1v2h-1zM82 729h1v1h-1zM899 731h1v1h-1zM1097 734h1v1h-1zM199 743h1v1h-1zM754 736h1v1h-1zM359 750h1v1h-1zM861 726h1v2h-1zM237 747h1v1h-1zM104 738h1v2h-1zM238 748h1v1h-1zM846 737h1v2h-1zM271 754h1v1h-1zM274 750h1v1h-1zM358 748h1v2h-1zM821 748h1v1h-1zM515 741h1v1h-1zM119 750h1v1h-1zM362 754h1v2h-1zM343 750h1v2h-1zM312 745h1v1h-1zM313 746h1v1h-1zM693 729h1v1h-1zM682 728h1v1h-1zM716 716h1v2h-1zM47 729h1v1h-1zM298 738h1v1h-1zM582 735h1v1h-1zM194 748h1v1h-1zM898 730h1v1h-1zM720 722h1v2h-1zM479 754h1v2h-1zM187 754h1v1h-1zM825 745h1v1h-1zM954 763h1v2h-1zM1053 743h1v1h-1zM696 725h1v1h-1zM969 758h1v1h-1zM376 746h1v2h-1zM510 747h1v1h-1zM513 743h1v1h-1zM239 749h1v2h-1zM483 747h1v1h-1zM240 751h1v1h-1zM452 750h1v1h-1zM347 743h1v1h-1zM864 722h1v1h-1zM849 732h1v2h-1zM372 753h1v2h-1zM453 751h1v1h-1zM719 721h1v1h-1zM847 736h1v1h-1zM361 753h1v1h-1zM198 744h1v1h-1zM1057 740h1v1h-1zM471 759h1v1h-1zM122 754h1v1h-1zM681 727h1v1h-1zM273 751h1v2h-1zM16 727h1v1h-1zM646 732h1v1h-1zM478 756h1v2h-1zM342 752h1v2h-1zM270 755h1v1h-1zM201 741h1v1h-1zM421 753h1v1h-1zM901 733h1v2h-1zM953 761h1v2h-1zM1029 748h1v1h-1zM121 752h1v2h-1zM749 730h1v1h-1zM949 754h1v2h-1zM813 742h1v1h-1zM189 752h1v1h-1zM893 725h1v1h-1zM894 726h1v1h-1zM718 719h1v2h-1zM820 749h1v1h-1zM695 726h1v2h-1zM867 717h1v1h-1zM900 732h1v1h-1zM850 730h1v2h-1zM12 724h1v1h-1zM964 762h1v1h-1zM692 730h1v1h-1zM748 729h1v1h-1zM1032 743h1v2h-1zM482 748h1v2h-1zM120 751h1v1h-1zM148 751h1v1h-1zM196 746h1v1h-1zM193 749h1v1h-1zM292 746h1v1h-1zM295 742h1v1h-1zM379 741h1v1h-1zM717 718h1v1h-1zM698 723h1v1h-1zM1028 749h1v2h-1zM76 721h1v1h-1zM380 742h1v1h-1zM1052 744h1v1h-1zM676 722h1v1h-1zM477 758h1v2h-1zM952 759h1v2h-1zM375 748h1v1h-1zM815 744h1v2h-1zM512 744h1v1h-1zM816 746h1v1h-1zM473 761h1v1h-1zM420 754h1v2h-1zM71 723h1v1h-1zM606 738h1v1h-1zM75 720h1v1h-1zM721 724h1v1h-1zM241 752h1v1h-1zM242 753h1v1h-1zM870 721h1v1h-1zM454 752h1v1h-1zM3 727h1v1h-1zM903 736h1v1h-1zM948 752h1v2h-1zM845 739h1v2h-1zM751 732h1v2h-1zM1035 739h1v1h-1zM272 753h1v1h-1zM200 742h1v1h-1zM1092 738h1v1h-1zM966 760h1v1h-1zM694 728h1v1h-1zM423 750h1v1h-1zM895 727h1v1h-1zM181 746h1v1h-1zM382 745h1v1h-1zM869 720h1v1h-1zM902 735h1v1h-1zM951 758h1v1h-1zM33 731h1v1h-1zM44 731h1v1h-1zM472 760h1v1h-1zM750 731h1v1h-1zM822 747h1v1h-1zM814 743h1v1h-1zM1054 742h1v1h-1zM248 758h1v1h-1zM826 744h1v1h-1zM970 757h1v1h-1zM1058 739h1v1h-1z" fill="#1e90ff"/></g><path d="M2.5 29.5H1418.5V569.5H2.5Z" fill="none" stroke="#000" stroke-width="1"/><path d="M2.5 571.5H1418.5V675.5H2.5Z" fill="none" stroke="#000" stroke-width="1"/><path d="M2.5 677.5H1418.5V807.5H2.5Z" fill="none" stroke="#000" stroke-width="1"/><rect x="1419" y="38" width="2" height="1" fill="#000"/><rect x="1419" y="71" width="2" height="1" fill="#000"/><rect x="1419" y="104" width="2" height="1" fill="#000"/><rect x="1419" y="137" width="2" height="1" fill="#000"/><rect x="1419" y="170" width="2" height="1" fill="#000"/><rect x="1419" y="203" width="2" height="1" fill="#000"/><rect x="1419" y="236" width="2" height="1" fill="#000"/><rect x="1419" y="269" width="2" height="1" fill="#000"/><rect x="1419" y="302" width="2" height="1" fill="#000"/><rect x="1419" y="335" width="2" height="1" fill="#000"/><rect x="1419" y="368" width="2" height="1" fill="#000"/><rect x="1419" y="401" width="2" height="1" fill="#000"/><rect x="1419" y="434" width="2" height="1" fill="#000"/><rect x="1419" y="467" width="2" height="1" fill="#000"/><rect x="1419" y="500" width="2" height="1" fill="#000"/><rect x="1419" y="533" width="2" height="1" fill="#000"/><rect x="1419" y="566" width="2" height="1" fill="#000"/><rect x="1419" y="573" width="1" height="1" fill="#000"/><rect x="1419" y="632" width="2" height="1" fill="#000"/><rect x="1419" y="674" width="1" height="1" fill="#000"/><rect x="1419" y="679" width="1" height="1" fill="#000"/><rect x="1419" y="806" width="1" height="1" fill="#000"/><rect x="3" y="808" width="1" height="3" fill="#000"/><rect x="67" y="808" width="1" height="3" fill="#000"/><rect x="131" y="808" width="1" height="3" fill="#000"/><rect x="195" y="808" width="1" height="3" fill="#000"/><rect x="259" y="808" width="1" height="3" fill="#000"/><rect x="323" y="808" width="1" height="3" fill="#000"/><rect x="387" y="808" width="1" height="3" fill="#000"/><rect x="451" y="808" width="1" height="3" fill="#000"/><rect x="515" y="808" width="1" height="3" fill="#000"/><rect x="579" y="808" width="1" height="3" fill="#000"/><rect x="643" y="808" width="1" height="3" fill="#000"/><rect x="707" y="808" width="1" height="3" fill="#000"/><rect x="771" y="808" width="1" height="3" fill="#000"/><rect x="835" y="808" width="1" height="3" fill="#000"/><rect x="899" y="808" width="1" height="3" fill="#000"/><rect x="963" y="808" width="1" height="3" fill="#000"/><rect x="1027" y="808" width="1" height="3" fill="#000"/><rect x="1091" y="808" width="1" height="3" fill="#000"/></svg>
<div class="t n" style="left:1424px;top:29.0px;">1.01425</div><div class="t n" style="left:1424px;top:62.0px;">1.01155</div><div class="t n" style="left:1424px;top:95.0px;">1.00880</div><div class="t n" style="left:1424px;top:128.0px;">1.00610</div><div class="t n" style="left:1424px;top:161.0px;">1.00335</div><div class="t n" style="left:1424px;top:194.0px;">1.00065</div><div class="t n" style="left:1424px;top:227.0px;">0.99790</div><div class="t n" style="left:1424px;top:260.0px;">0.99520</div><div class="t n" style="left:1424px;top:293.0px;">0.99250</div><div class="t n" style="left:1424px;top:326.0px;">0.98975</div><div class="t n" style="left:1424px;top:359.0px;">0.98705</div><div class="t n" style="left:1424px;top:392.0px;">0.98430</div><div class="t n" style="left:1424px;top:425.0px;">0.98160</div><div class="t n" style="left:1424px;top:458.0px;">0.97885</div><div class="t n" style="left:1424px;top:491.0px;">0.97615</div><div class="t n" style="left:1424px;top:524.0px;">0.97340</div><div class="t n" style="left:1424px;top:557.0px;">0.97070</div><div class="t n" style="left:1422px;top:569.8px;">0.005926</div><div class="t n" style="left:1422px;top:623.0px;">0.00</div><div class="t n" style="left:1422px;top:659.1px;">-0.004241</div><div class="t n" style="left:1422px;top:675.3px;">100</div><div class="t n" style="left:1421.3px;top:708.0px;">70</div><div class="t n" style="left:1421.3px;top:759.0px;">30</div><div class="t n" style="left:1422px;top:791.0px;">0</div><div class="t" style="left:2.5px;top:807.1px;">1 Nov 2018</div><div class="t" style="left:66.5px;top:807.1px;">11 Nov 2018</div><div class="t" style="left:130.5px;top:807.1px;">20 Nov 2018</div><div class="t" style="left:194.5px;top:807.1px;">29 Nov 2018</div><div class="t" style="left:258.5px;top:807.1px;">9 Dec 2018</div><div class="t" style="left:322.5px;top:807.1px;">18 Dec 2018</div><div class="t" style="left:386.5px;top:807.1px;">27 Dec 2018</div><div class="t" style="left:450.5px;top:807.1px;">6 Jan 2019</div><div class="t" style="left:514.5px;top:807.1px;">15 Jan 2019</div><div class="t" style="left:578.5px;top:807.1px;">24 Jan 2019</div><div class="t" style="left:642.5px;top:807.1px;">3 Feb 2019</div><div class="t" style="left:706.5px;top:807.1px;">12 Feb 2019</div><div class="t" style="left:770.5px;top:807.1px;">21 Feb 2019</div><div class="t" style="left:834.5px;top:807.1px;">3 Mar 2019</div><div class="t" style="left:898.5px;top:807.1px;">12 Mar 2019</div><div class="t" style="left:962.5px;top:807.1px;">21 Mar 2019</div><div class="t" style="left:1026.5px;top:807.1px;">31 Mar 2019</div><div class="t" style="left:1090.5px;top:807.1px;">9 Apr 2019</div><div class="t" style="left:18.4px;top:28.1px;">USDCHF-,Daily&nbsp; 1.00280 1.00332 1.00217 1.00286</div><div class="t m" style="left:7px;top:571.1px;">MACD(12,26,9) 0.000711 -0.000213</div><div class="t m" style="left:6.5px;top:677.1px;">RSI(14) 59.9021</div>
<!-- current price tag -->
<div style="left:1420px;top:171px;width:41px;height:11px;background:#000"></div>
<div class="t n" style="left:1424px;top:167px;color:#fff;-webkit-text-stroke:0">1.00286</div>
<!-- chart title arrow -->
<svg style="position:absolute;left:5px;top:34px" width="10" height="8" viewBox="5 34 10 8" shape-rendering="crispEdges"><path d="M9 36h1v1h-1zM8 37h3v1h-3zM7 38h5v1h-5zM6 39h7v1h-7z" fill="#000"/></svg>
<!-- one click trading panel -->
<div style="left:4px;top:47px;width:223px;height:68px;background:#fff"></div>
<div id="grad" style="left:6px;top:49px;width:219px;height:64px;background:linear-gradient(#5a5af8 0%,#3c3ce0 38%,#2222cc 60%,#0808b0 100%)"></div>
<div style="left:58px;top:47px;width:115px;height:26px;background:#fff"></div>
<div style="left:115px;top:73px;width:2px;height:40px;background:#fff"></div>
<div style="left:10px;top:72px;width:44px;height:1px;background:#2020b8"></div>
<div style="left:10px;top:73px;width:44px;height:1px;background:#9090ee"></div>
<div style="left:177px;top:72px;width:44px;height:1px;background:#2020b8"></div>
<div style="left:177px;top:73px;width:44px;height:1px;background:#9090ee"></div>
<svg style="position:absolute;left:0;top:0" width="240" height="120" viewBox="0 0 240 120" shape-rendering="crispEdges"><path d="M6.5 49.5H57.5V73.5H114.5V112.5H6.5ZM173.5 49.5H224.5V112.5H117.5V73.5H173.5Z" fill="none" stroke="#0c0cb0" stroke-opacity="0.9"/></svg>
<div style="left:60px;top:49px;width:111px;height:22px;background:#fff;border:1px solid #a8aab2"></div>
<div style="left:62px;top:51px;width:18px;height:18px;background:linear-gradient(#f3f3f3 0%,#ebebeb 33%,#d8d8d8 34%,#cfcfcf 100%)"></div>
<div style="left:81px;top:50px;width:1px;height:20px;background:#a8aab2"></div>
<div style="left:149px;top:50px;width:1px;height:20px;background:#a8aab2"></div>
<div style="left:151px;top:51px;width:18px;height:18px;background:linear-gradient(#f3f3f3 0%,#ebebeb 33%,#d8d8d8 34%,#cfcfcf 100%)"></div>
<svg style="position:absolute;left:60px;top:49px" width="111" height="22" viewBox="60 49 111 22" shape-rendering="crispEdges"><path d="M68 58h5v1h-5zM157 60h5v1h-5z" fill="#5a6ed2"/><path d="M69 59h3v1h-3zM158 59h3v1h-3z" fill="#4a58b4"/><path d="M70 60h1v1h-1zM159 58h1v1h-1z" fill="#3a3e7c"/></svg>
<div style="left:100px;top:50px;width:46px;height:20px;line-height:20px;font-size:12px;text-align:right;color:#000">1.00</div>
<div class="w" style="left:18px;top:50.5px;font-size:12px;line-height:20px;letter-spacing:-1px;color:#e8e8ff">SELL</div>
<div class="w" style="left:186px;top:50.5px;font-size:12px;line-height:20px;letter-spacing:-0.3px;color:#e8e8ff">BUY</div>
<div class="w" style="left:26.5px;top:89.5px;font-size:12px;font-weight:bold;line-height:20px">1.00</div>
<div class="w" style="left:53.3px;top:75.2px;font-size:33px;line-height:36px;letter-spacing:-1.3px">28</div>
<div class="w" style="left:92.8px;top:74.4px;font-size:12px;font-weight:bold;line-height:20px">6</div>
<div class="w" style="left:136.5px;top:89.5px;font-size:12px;font-weight:bold;line-height:20px">1.00</div>
<div class="w" style="left:163.8px;top:75.2px;font-size:33px;line-height:36px;letter-spacing:-1.3px">30</div>
<div class="w" style="left:203.4px;top:74.4px;font-size:12px;font-weight:bold;line-height:20px">7</div>
</body></html>
